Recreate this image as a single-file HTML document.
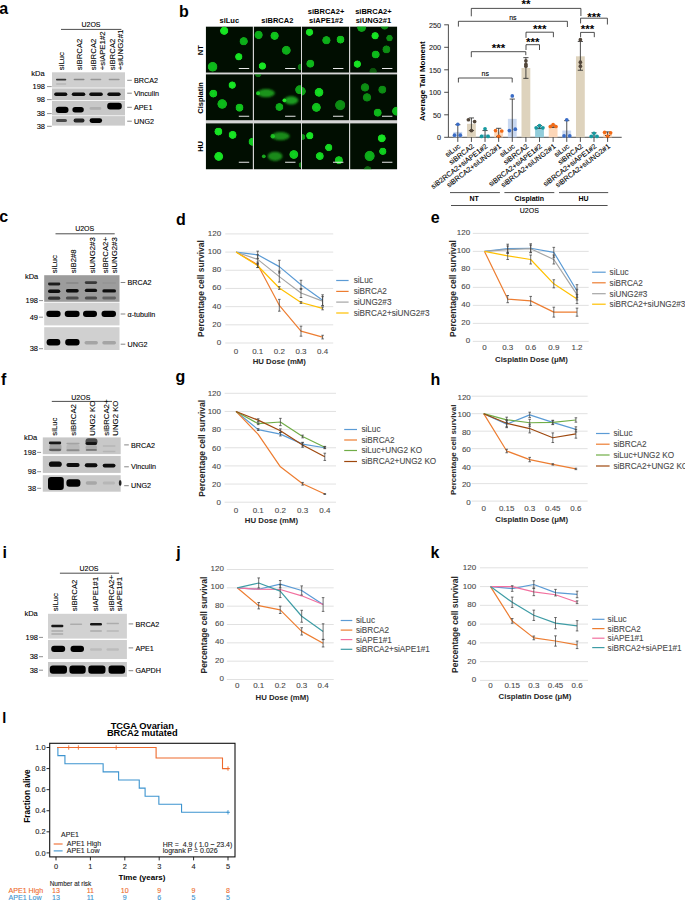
<!DOCTYPE html>
<html><head><meta charset="utf-8"><title>Figure</title>
<style>
html,body{margin:0;padding:0;background:#fff;overflow:hidden;}
svg{display:block;font-family:"Liberation Sans", sans-serif;}
</style></head><body>
<svg width="685" height="900" viewBox="0 0 685 900">
<defs>
<filter id="bl" x="-50%" y="-100%" width="200%" height="300%"><feGaussianBlur stdDeviation="0.55"/></filter>
<filter id="cf" x="-50%" y="-50%" width="200%" height="200%"><feGaussianBlur stdDeviation="0.45"/></filter>
<filter id="cb" x="-50%" y="-100%" width="200%" height="300%"><feGaussianBlur stdDeviation="1.0"/></filter>
<radialGradient id="cg"><stop offset="0" stop-color="#14ea22"/><stop offset="0.72" stop-color="#12e020"/><stop offset="0.86" stop-color="#18d424"/><stop offset="0.95" stop-color="#10a818"/><stop offset="1" stop-color="#0a600e" stop-opacity="0.6"/></radialGradient>
</defs>
<text x="-0.80" y="14.10" font-size="16" text-anchor="start" font-weight="bold" fill="#000">a</text>
<text x="91.00" y="27.30" font-size="7" text-anchor="middle" fill="#000" stroke="#000" stroke-width="0.1">U2OS</text>
<line x1="61.00" y1="29.40" x2="121.40" y2="29.40" stroke="#000" stroke-width="0.7"/>
<text x="63.80" y="70.20" font-size="7.8" text-anchor="start" fill="#000" stroke="#000" stroke-width="0.1" transform="rotate(-90 63.80 70.20)">siLuc</text>
<text x="82.00" y="70.20" font-size="7.8" text-anchor="start" fill="#000" stroke="#000" stroke-width="0.1" transform="rotate(-90 82.00 70.20)">siBRCA2</text>
<text x="95.70" y="70.20" font-size="7.8" text-anchor="start" fill="#000" stroke="#000" stroke-width="0.1" transform="rotate(-90 95.70 70.20)">siBRCA2</text>
<text x="105.20" y="70.20" font-size="7.8" text-anchor="start" fill="#000" stroke="#000" stroke-width="0.1" transform="rotate(-90 105.20 70.20)">+siAPE1#2</text>
<text x="114.70" y="70.20" font-size="7.8" text-anchor="start" fill="#000" stroke="#000" stroke-width="0.1" transform="rotate(-90 114.70 70.20)">siBRCA2</text>
<text x="123.20" y="70.20" font-size="7.8" text-anchor="start" fill="#000" stroke="#000" stroke-width="0.1" transform="rotate(-90 123.20 70.20)">+siUNG2#1</text>
<text x="31.30" y="76.00" font-size="7.5" text-anchor="start" fill="#000" stroke="#000" stroke-width="0.1">kDa</text>
<rect x="52.00" y="72.30" width="73.00" height="15.30" fill="#cfcfcf"/>
<rect x="52.00" y="88.40" width="73.00" height="11.60" fill="#c4c4c4"/>
<rect x="52.00" y="100.80" width="73.00" height="14.60" fill="#c8c8c8"/>
<rect x="52.00" y="116.10" width="73.00" height="9.50" fill="#cbcbcb"/>
<rect x="56.00" y="78.70" width="10.30" height="1.80" rx="0.90" fill="#222" fill-opacity="0.9" filter="url(#bl)"/>
<rect x="56.00" y="83.20" width="10.30" height="1.60" rx="0.80" fill="#888" fill-opacity="0.35" filter="url(#bl)"/>
<rect x="73.60" y="78.85" width="10.90" height="1.50" rx="0.75" fill="#555" fill-opacity="0.6" filter="url(#bl)"/>
<rect x="90.40" y="78.85" width="10.90" height="1.50" rx="0.75" fill="#666" fill-opacity="0.55" filter="url(#bl)"/>
<rect x="108.60" y="78.85" width="11.00" height="1.50" rx="0.75" fill="#666" fill-opacity="0.55" filter="url(#bl)"/>
<rect x="54.20" y="92.50" width="13.10" height="3.40" rx="1.70" fill="#0a0a0a" fill-opacity="1" filter="url(#bl)"/>
<rect x="71.80" y="92.50" width="13.50" height="3.40" rx="1.70" fill="#0a0a0a" fill-opacity="1" filter="url(#bl)"/>
<rect x="89.30" y="92.50" width="13.50" height="3.40" rx="1.70" fill="#0a0a0a" fill-opacity="1" filter="url(#bl)"/>
<rect x="107.40" y="92.50" width="13.20" height="3.40" rx="1.70" fill="#0a0a0a" fill-opacity="1" filter="url(#bl)"/>
<rect x="55.80" y="106.70" width="12.70" height="6.40" rx="3.00" fill="#050505" fill-opacity="1" filter="url(#bl)"/>
<rect x="72.40" y="107.10" width="11.40" height="5.40" rx="2.70" fill="#050505" fill-opacity="1" filter="url(#bl)"/>
<rect x="89.60" y="107.10" width="11.70" height="2.60" rx="1.30" fill="#999" fill-opacity="0.55" filter="url(#bl)"/>
<rect x="107.20" y="102.80" width="14.60" height="6.60" rx="3.00" fill="#030303" fill-opacity="1" filter="url(#bl)"/>
<rect x="56.00" y="118.90" width="11.00" height="3.20" rx="1.60" fill="#333" fill-opacity="0.85" filter="url(#bl)"/>
<rect x="73.60" y="118.60" width="10.90" height="3.80" rx="1.90" fill="#1a1a1a" fill-opacity="0.95" filter="url(#bl)"/>
<rect x="89.60" y="118.30" width="12.50" height="4.60" rx="2.30" fill="#050505" fill-opacity="1" filter="url(#bl)"/>
<text x="45.00" y="89.20" font-size="7.5" text-anchor="end" fill="#000" stroke="#000" stroke-width="0.1">198</text>
<line x1="47.00" y1="86.60" x2="51.70" y2="86.60" stroke="#444" stroke-width="0.6"/>
<text x="45.00" y="102.20" font-size="7.5" text-anchor="end" fill="#000" stroke="#000" stroke-width="0.1">98</text>
<line x1="47.00" y1="99.60" x2="51.70" y2="99.60" stroke="#444" stroke-width="0.6"/>
<text x="45.00" y="116.20" font-size="7.5" text-anchor="end" fill="#000" stroke="#000" stroke-width="0.1">38</text>
<line x1="47.00" y1="113.60" x2="51.70" y2="113.60" stroke="#444" stroke-width="0.6"/>
<text x="45.00" y="128.90" font-size="7.5" text-anchor="end" fill="#000" stroke="#000" stroke-width="0.1">38</text>
<line x1="47.00" y1="126.30" x2="51.70" y2="126.30" stroke="#444" stroke-width="0.6"/>
<line x1="127.20" y1="80.30" x2="131.80" y2="80.30" stroke="#333" stroke-width="0.6"/>
<text x="134.00" y="82.90" font-size="7.2" text-anchor="start" fill="#000" stroke="#000" stroke-width="0.1">BRCA2</text>
<line x1="127.20" y1="93.20" x2="131.80" y2="93.20" stroke="#333" stroke-width="0.6"/>
<text x="134.00" y="95.80" font-size="7.2" text-anchor="start" fill="#000" stroke="#000" stroke-width="0.1">Vinculin</text>
<line x1="127.20" y1="107.30" x2="131.80" y2="107.30" stroke="#333" stroke-width="0.6"/>
<text x="134.00" y="109.90" font-size="7.2" text-anchor="start" fill="#000" stroke="#000" stroke-width="0.1">APE1</text>
<line x1="127.20" y1="121.20" x2="131.80" y2="121.20" stroke="#333" stroke-width="0.6"/>
<text x="134.00" y="123.80" font-size="7.2" text-anchor="start" fill="#000" stroke="#000" stroke-width="0.1">UNG2</text>
<text x="179.00" y="17.00" font-size="16" text-anchor="start" font-weight="bold" fill="#000">b</text>
<text x="229.30" y="23.00" font-size="7.5" text-anchor="middle" font-weight="bold" fill="#000">siLuc</text>
<text x="277.30" y="23.00" font-size="7.5" text-anchor="middle" font-weight="bold" fill="#000">siBRCA2</text>
<text x="326.10" y="13.80" font-size="7.5" text-anchor="middle" font-weight="bold" fill="#000">siBRCA2+</text>
<text x="326.10" y="23.00" font-size="7.5" text-anchor="middle" font-weight="bold" fill="#000">siAPE1#2</text>
<text x="373.40" y="13.80" font-size="7.5" text-anchor="middle" font-weight="bold" fill="#000">siBRCA2+</text>
<text x="373.40" y="23.00" font-size="7.5" text-anchor="middle" font-weight="bold" fill="#000">siUNG2#1</text>
<text x="203.10" y="50.20" font-size="7.5" text-anchor="middle" font-weight="bold" fill="#000" transform="rotate(-90 203.10 50.20)">NT</text>
<text x="203.10" y="97.90" font-size="7.5" text-anchor="middle" font-weight="bold" fill="#000" transform="rotate(-90 203.10 97.90)">Cisplatin</text>
<text x="203.10" y="146.40" font-size="7.5" text-anchor="middle" font-weight="bold" fill="#000" transform="rotate(-90 203.10 146.40)">HU</text>
<rect x="205.80" y="26.50" width="191.40" height="142.90" fill="#d6d6d6"/>
<clipPath id="c00"><rect x="205.80" y="26.50" width="47.1" height="46.2"/></clipPath>
<g clip-path="url(#c00)">
<rect x="205.80" y="26.50" width="47.10" height="46.20" fill="#010e01"/>
<circle cx="224.2" cy="30.7" r="4.3" fill="url(#cg)" fill-opacity="1.0" filter="url(#cf)"/>
<circle cx="243.7" cy="41.2" r="4.3" fill="url(#cg)" fill-opacity="0.75" filter="url(#cf)"/>
<circle cx="238.8" cy="56.8" r="3.8" fill="url(#cg)" fill-opacity="1.0" filter="url(#cf)"/>
<circle cx="212.6" cy="66.8" r="5" fill="url(#cg)" fill-opacity="0.8" filter="url(#cf)"/>
<line x1="238.80" y1="68.50" x2="249.20" y2="68.50" stroke="#e8e8e8" stroke-width="1.1"/>
</g>
<clipPath id="c01"><rect x="205.80" y="74.20" width="47.1" height="46.2"/></clipPath>
<g clip-path="url(#c01)">
<rect x="205.80" y="74.20" width="47.10" height="46.20" fill="#010e01"/>
<circle cx="232.2" cy="85.1" r="3.8" fill="url(#cg)" fill-opacity="1.0" filter="url(#cf)"/>
<circle cx="213.3" cy="93.6" r="4.1" fill="url(#cg)" fill-opacity="0.9" filter="url(#cf)"/>
<circle cx="222.2" cy="104" r="5" fill="url(#cg)" fill-opacity="0.8" filter="url(#cf)"/>
<circle cx="239.5" cy="107.7" r="4.1" fill="url(#cg)" fill-opacity="0.85" filter="url(#cf)"/>
<line x1="238.80" y1="116.20" x2="249.20" y2="116.20" stroke="#e8e8e8" stroke-width="1.1"/>
</g>
<clipPath id="c02"><rect x="205.80" y="123.20" width="47.1" height="46.2"/></clipPath>
<g clip-path="url(#c02)">
<rect x="205.80" y="123.20" width="47.10" height="46.20" fill="#010e01"/>
<circle cx="218.4" cy="131.6" r="4.1" fill="url(#cg)" fill-opacity="1.0" filter="url(#cf)"/>
<circle cx="232.6" cy="134.9" r="4.1" fill="url(#cg)" fill-opacity="1.0" filter="url(#cf)"/>
<circle cx="252.5" cy="141.8" r="4.1" fill="url(#cg)" fill-opacity="0.9" filter="url(#cf)"/>
<circle cx="218.7" cy="156.4" r="4.6" fill="url(#cg)" fill-opacity="1.0" filter="url(#cf)"/>
<line x1="238.80" y1="162.30" x2="249.20" y2="162.30" stroke="#e8e8e8" stroke-width="1.1"/>
</g>
<clipPath id="c10"><rect x="253.90" y="26.50" width="47.1" height="46.2"/></clipPath>
<g clip-path="url(#c10)">
<rect x="253.90" y="26.50" width="47.10" height="46.20" fill="#010e01"/>
<circle cx="258.6" cy="34.9" r="4.3" fill="url(#cg)" fill-opacity="0.75" filter="url(#cf)"/>
<circle cx="274.6" cy="35.8" r="4.3" fill="url(#cg)" fill-opacity="0.85" filter="url(#cf)"/>
<circle cx="286.3" cy="50.3" r="4.6" fill="url(#cg)" fill-opacity="0.75" filter="url(#cf)"/>
<circle cx="262.4" cy="66" r="3.8" fill="url(#cg)" fill-opacity="1.0" filter="url(#cf)"/>
<circle cx="301" cy="67" r="3.5" fill="url(#cg)" fill-opacity="0.5" filter="url(#cf)"/>
<line x1="285.10" y1="68.50" x2="295.50" y2="68.50" stroke="#e8e8e8" stroke-width="1.1"/>
</g>
<clipPath id="c11"><rect x="253.90" y="74.20" width="47.1" height="46.2"/></clipPath>
<g clip-path="url(#c11)">
<rect x="253.90" y="74.20" width="47.10" height="46.20" fill="#010e01"/>
<circle cx="258.2" cy="73.8" r="3.5" fill="url(#cg)" fill-opacity="0.5" filter="url(#cf)"/>
<circle cx="299.6" cy="89.7" r="4.6" fill="url(#cg)" fill-opacity="0.7" filter="url(#cf)"/>
<circle cx="279.4" cy="107" r="4.1" fill="url(#cg)" fill-opacity="0.75" filter="url(#cf)"/>
<ellipse cx="266.10" cy="93.20" rx="8.70" ry="4.10" fill="#20aa22" fill-opacity="0.85" filter="url(#cb)"/>
<circle cx="258.0" cy="93.2" r="2.0" fill="#22e82a" fill-opacity="0.8" filter="url(#bl)"/>
<ellipse cx="291.20" cy="100.30" rx="7.10" ry="4.10" fill="#20aa22" fill-opacity="0.90" filter="url(#cb)"/>
<circle cx="284.4" cy="100.3" r="1.9" fill="#22e82a" fill-opacity="1.0" filter="url(#bl)"/>
<line x1="285.10" y1="116.20" x2="295.50" y2="116.20" stroke="#e8e8e8" stroke-width="1.1"/>
</g>
<clipPath id="c12"><rect x="253.90" y="123.20" width="47.1" height="46.2"/></clipPath>
<g clip-path="url(#c12)">
<rect x="253.90" y="123.20" width="47.10" height="46.20" fill="#010e01"/>
<circle cx="293.8" cy="154.5" r="4.6" fill="url(#cg)" fill-opacity="0.9" filter="url(#cf)"/>
<circle cx="301.5" cy="165" r="3" fill="url(#cg)" fill-opacity="0.5" filter="url(#cf)"/>
<ellipse cx="280.60" cy="136.20" rx="9.00" ry="4.10" fill="#20aa22" fill-opacity="0.80" filter="url(#cb)"/>
<circle cx="272.7" cy="136.2" r="2.2" fill="#22e82a" fill-opacity="0.7" filter="url(#bl)"/>
<ellipse cx="275.05" cy="156.30" rx="7.35" ry="4.60" fill="#20aa22" fill-opacity="0.80" filter="url(#cb)"/>
<circle cx="263.8" cy="156.3" r="1.9" fill="#22e82a" fill-opacity="0.7" filter="url(#bl)"/>
<line x1="285.10" y1="162.30" x2="295.50" y2="162.30" stroke="#e8e8e8" stroke-width="1.1"/>
</g>
<clipPath id="c20"><rect x="302.00" y="26.50" width="47.1" height="46.2"/></clipPath>
<g clip-path="url(#c20)">
<rect x="302.00" y="26.50" width="47.10" height="46.20" fill="#010e01"/>
<circle cx="309.5" cy="32.3" r="3.8" fill="url(#cg)" fill-opacity="1.0" filter="url(#cf)"/>
<circle cx="326.4" cy="40.2" r="4.3" fill="url(#cg)" fill-opacity="0.75" filter="url(#cf)"/>
<circle cx="340.5" cy="39.6" r="4.1" fill="url(#cg)" fill-opacity="0.85" filter="url(#cf)"/>
<circle cx="310.3" cy="63.7" r="4.1" fill="url(#cg)" fill-opacity="0.8" filter="url(#cf)"/>
<line x1="333.00" y1="68.50" x2="343.40" y2="68.50" stroke="#e8e8e8" stroke-width="1.1"/>
</g>
<clipPath id="c21"><rect x="302.00" y="74.20" width="47.1" height="46.2"/></clipPath>
<g clip-path="url(#c21)">
<rect x="302.00" y="74.20" width="47.10" height="46.20" fill="#010e01"/>
<circle cx="319" cy="92.3" r="4.6" fill="url(#cg)" fill-opacity="0.95" filter="url(#cf)"/>
<circle cx="316.4" cy="107.4" r="4.6" fill="url(#cg)" fill-opacity="0.85" filter="url(#cf)"/>
<circle cx="340.2" cy="105.1" r="5.3" fill="url(#cg)" fill-opacity="0.6" filter="url(#cf)"/>
<circle cx="301.5" cy="91.3" r="4.5" fill="url(#cg)" fill-opacity="0.7" filter="url(#cf)"/>
<line x1="333.00" y1="116.20" x2="343.40" y2="116.20" stroke="#e8e8e8" stroke-width="1.1"/>
</g>
<clipPath id="c22"><rect x="302.00" y="123.20" width="47.1" height="46.2"/></clipPath>
<g clip-path="url(#c22)">
<rect x="302.00" y="123.20" width="47.10" height="46.20" fill="#010e01"/>
<circle cx="309.8" cy="135.7" r="3.8" fill="url(#cg)" fill-opacity="1.0" filter="url(#cf)"/>
<circle cx="328.7" cy="147.5" r="3.8" fill="url(#cg)" fill-opacity="0.95" filter="url(#cf)"/>
<circle cx="319.8" cy="156.1" r="4.1" fill="url(#cg)" fill-opacity="0.95" filter="url(#cf)"/>
<circle cx="338.9" cy="160.2" r="4.1" fill="url(#cg)" fill-opacity="0.9" filter="url(#cf)"/>
<circle cx="302.5" cy="137" r="3" fill="url(#cg)" fill-opacity="0.6" filter="url(#cf)"/>
<line x1="333.00" y1="162.30" x2="343.40" y2="162.30" stroke="#e8e8e8" stroke-width="1.1"/>
</g>
<clipPath id="c30"><rect x="350.10" y="26.50" width="47.1" height="46.2"/></clipPath>
<g clip-path="url(#c30)">
<rect x="350.10" y="26.50" width="47.10" height="46.20" fill="#010e01"/>
<circle cx="361.6" cy="27.5" r="4.6" fill="url(#cg)" fill-opacity="0.7" filter="url(#cf)"/>
<circle cx="384.6" cy="25.5" r="4.3" fill="url(#cg)" fill-opacity="0.6" filter="url(#cf)"/>
<circle cx="375.1" cy="35.8" r="3.8" fill="url(#cg)" fill-opacity="1.0" filter="url(#cf)"/>
<circle cx="389.5" cy="38.1" r="3.4" fill="url(#cg)" fill-opacity="0.6" filter="url(#cf)"/>
<circle cx="386.4" cy="49.4" r="4.1" fill="url(#cg)" fill-opacity="0.6" filter="url(#cf)"/>
<circle cx="375.7" cy="54.5" r="4.1" fill="url(#cg)" fill-opacity="0.8" filter="url(#cf)"/>
<circle cx="357.3" cy="64.1" r="3.8" fill="url(#cg)" fill-opacity="1.0" filter="url(#cf)"/>
<circle cx="373.1" cy="71.5" r="3.8" fill="url(#cg)" fill-opacity="0.35" filter="url(#cf)"/>
<line x1="382.00" y1="68.50" x2="392.40" y2="68.50" stroke="#e8e8e8" stroke-width="1.1"/>
</g>
<clipPath id="c31"><rect x="350.10" y="74.20" width="47.1" height="46.2"/></clipPath>
<g clip-path="url(#c31)">
<rect x="350.10" y="74.20" width="47.10" height="46.20" fill="#010e01"/>
<circle cx="365" cy="87.4" r="4.3" fill="url(#cg)" fill-opacity="0.6" filter="url(#cf)"/>
<circle cx="382.3" cy="89.7" r="4.1" fill="url(#cg)" fill-opacity="0.6" filter="url(#cf)"/>
<circle cx="367" cy="97.4" r="4.3" fill="url(#cg)" fill-opacity="0.6" filter="url(#cf)"/>
<circle cx="377.7" cy="112.7" r="4.1" fill="url(#cg)" fill-opacity="0.8" filter="url(#cf)"/>
<circle cx="396.5" cy="111.2" r="4.6" fill="url(#cg)" fill-opacity="0.8" filter="url(#cf)"/>
<line x1="382.00" y1="116.20" x2="392.40" y2="116.20" stroke="#e8e8e8" stroke-width="1.1"/>
</g>
<clipPath id="c32"><rect x="350.10" y="123.20" width="47.1" height="46.2"/></clipPath>
<g clip-path="url(#c32)">
<rect x="350.10" y="123.20" width="47.10" height="46.20" fill="#010e01"/>
<circle cx="381.8" cy="138.3" r="4.1" fill="url(#cg)" fill-opacity="1.0" filter="url(#cf)"/>
<circle cx="382.8" cy="151.3" r="3.8" fill="url(#cg)" fill-opacity="0.9" filter="url(#cf)"/>
<circle cx="369.6" cy="155.9" r="5.3" fill="url(#cg)" fill-opacity="0.75" filter="url(#cf)"/>
<circle cx="367.7" cy="170" r="4" fill="url(#cg)" fill-opacity="0.4" filter="url(#cf)"/>
<line x1="382.00" y1="162.30" x2="392.40" y2="162.30" stroke="#e8e8e8" stroke-width="1.1"/>
</g>
<line x1="448.40" y1="24.50" x2="448.40" y2="137.30" stroke="#222" stroke-width="0.8"/>
<line x1="448.40" y1="137.30" x2="621.70" y2="137.30" stroke="#222" stroke-width="0.8"/>
<line x1="444.20" y1="137.30" x2="448.40" y2="137.30" stroke="#222" stroke-width="0.8"/>
<text x="441.00" y="140.30" font-size="7.2" text-anchor="end" fill="#222" stroke="#222" stroke-width="0.1">0</text>
<line x1="444.20" y1="114.80" x2="448.40" y2="114.80" stroke="#222" stroke-width="0.8"/>
<text x="441.00" y="117.80" font-size="7.2" text-anchor="end" fill="#222" stroke="#222" stroke-width="0.1">50</text>
<line x1="444.20" y1="92.30" x2="448.40" y2="92.30" stroke="#222" stroke-width="0.8"/>
<text x="441.00" y="95.30" font-size="7.2" text-anchor="end" fill="#222" stroke="#222" stroke-width="0.1">100</text>
<line x1="444.20" y1="69.80" x2="448.40" y2="69.80" stroke="#222" stroke-width="0.8"/>
<text x="441.00" y="72.80" font-size="7.2" text-anchor="end" fill="#222" stroke="#222" stroke-width="0.1">150</text>
<line x1="444.20" y1="47.30" x2="448.40" y2="47.30" stroke="#222" stroke-width="0.8"/>
<text x="441.00" y="50.30" font-size="7.2" text-anchor="end" fill="#222" stroke="#222" stroke-width="0.1">200</text>
<line x1="444.20" y1="24.80" x2="448.40" y2="24.80" stroke="#222" stroke-width="0.8"/>
<text x="441.00" y="27.80" font-size="7.2" text-anchor="end" fill="#222" stroke="#222" stroke-width="0.1">250</text>
<text x="424.60" y="81.20" font-size="8.0" text-anchor="middle" font-weight="bold" fill="#000" transform="rotate(-90 424.60 81.20)">Average Tail Moment</text>
<rect x="453.40" y="131.90" width="8.80" height="5.40" fill="#c9d8f0"/>
<rect x="467.02" y="123.80" width="8.80" height="13.50" fill="#ded3bd"/>
<rect x="480.64" y="134.60" width="8.80" height="2.70" fill="#92cddb"/>
<rect x="494.26" y="131.45" width="8.80" height="5.85" fill="#fdd7b8"/>
<rect x="507.88" y="118.85" width="8.80" height="18.45" fill="#c9d8f0"/>
<rect x="521.50" y="68.00" width="8.80" height="69.30" fill="#ded3bd"/>
<rect x="535.12" y="126.95" width="8.80" height="10.35" fill="#92cddb"/>
<rect x="548.74" y="126.05" width="8.80" height="11.25" fill="#fdd7b8"/>
<rect x="562.36" y="130.55" width="8.80" height="6.75" fill="#c9d8f0"/>
<rect x="575.98" y="56.30" width="8.80" height="81.00" fill="#ded3bd"/>
<rect x="589.60" y="135.05" width="8.80" height="2.25" fill="#92cddb"/>
<rect x="603.22" y="133.25" width="8.80" height="4.05" fill="#fdd7b8"/>
<line x1="457.80" y1="124.70" x2="457.80" y2="137.30" stroke="#222" stroke-width="0.8"/>
<line x1="455.20" y1="124.70" x2="460.40" y2="124.70" stroke="#222" stroke-width="0.8"/>
<circle cx="454.50" cy="135.19" r="1.85" fill="#3a6cc6"/>
<circle cx="460.30" cy="135.19" r="1.85" fill="#3a6cc6"/>
<circle cx="457.80" cy="124.25" r="1.85" fill="#3a6cc6"/>
<line x1="457.80" y1="137.30" x2="457.80" y2="141.90" stroke="#222" stroke-width="0.8"/>
<line x1="471.42" y1="117.95" x2="471.42" y2="130.55" stroke="#222" stroke-width="0.8"/>
<line x1="468.82" y1="117.95" x2="474.02" y2="117.95" stroke="#222" stroke-width="0.8"/>
<line x1="468.82" y1="130.55" x2="474.02" y2="130.55" stroke="#222" stroke-width="0.8"/>
<circle cx="468.42" cy="119.75" r="1.85" fill="#52463a"/>
<circle cx="474.62" cy="121.55" r="1.85" fill="#52463a"/>
<circle cx="471.42" cy="130.55" r="1.85" fill="#52463a"/>
<line x1="471.42" y1="137.30" x2="471.42" y2="141.90" stroke="#222" stroke-width="0.8"/>
<line x1="485.04" y1="130.55" x2="485.04" y2="137.30" stroke="#222" stroke-width="0.8"/>
<line x1="482.44" y1="130.55" x2="487.64" y2="130.55" stroke="#222" stroke-width="0.8"/>
<circle cx="481.54" cy="136.40" r="1.85" fill="#16999f"/>
<circle cx="488.04" cy="136.40" r="1.85" fill="#16999f"/>
<circle cx="485.04" cy="128.75" r="1.85" fill="#16999f"/>
<line x1="485.04" y1="137.30" x2="485.04" y2="141.90" stroke="#222" stroke-width="0.8"/>
<line x1="498.66" y1="128.30" x2="498.66" y2="136.40" stroke="#222" stroke-width="0.8"/>
<line x1="496.06" y1="128.30" x2="501.26" y2="128.30" stroke="#222" stroke-width="0.8"/>
<line x1="496.06" y1="136.40" x2="501.26" y2="136.40" stroke="#222" stroke-width="0.8"/>
<circle cx="495.56" cy="130.55" r="1.85" fill="#f26a16"/>
<circle cx="501.76" cy="131.00" r="1.85" fill="#f26a16"/>
<circle cx="498.66" cy="136.40" r="1.85" fill="#f26a16"/>
<line x1="498.66" y1="137.30" x2="498.66" y2="141.90" stroke="#222" stroke-width="0.8"/>
<line x1="512.28" y1="99.05" x2="512.28" y2="137.30" stroke="#222" stroke-width="0.8"/>
<line x1="509.68" y1="99.05" x2="514.88" y2="99.05" stroke="#222" stroke-width="0.8"/>
<circle cx="512.28" cy="95.90" r="1.85" fill="#3a6cc6"/>
<circle cx="509.38" cy="130.55" r="1.85" fill="#3a6cc6"/>
<circle cx="515.28" cy="129.20" r="1.85" fill="#3a6cc6"/>
<line x1="512.28" y1="137.30" x2="512.28" y2="141.90" stroke="#222" stroke-width="0.8"/>
<line x1="525.90" y1="57.65" x2="525.90" y2="78.35" stroke="#222" stroke-width="0.8"/>
<line x1="523.30" y1="57.65" x2="528.50" y2="57.65" stroke="#222" stroke-width="0.8"/>
<line x1="523.30" y1="78.35" x2="528.50" y2="78.35" stroke="#222" stroke-width="0.8"/>
<circle cx="525.90" cy="60.80" r="1.85" fill="#52463a"/>
<circle cx="525.90" cy="64.40" r="1.85" fill="#52463a"/>
<circle cx="525.90" cy="66.20" r="1.85" fill="#52463a"/>
<line x1="525.90" y1="137.30" x2="525.90" y2="141.90" stroke="#222" stroke-width="0.8"/>
<line x1="539.52" y1="125.60" x2="539.52" y2="128.30" stroke="#222" stroke-width="0.8"/>
<line x1="536.92" y1="125.60" x2="542.12" y2="125.60" stroke="#222" stroke-width="0.8"/>
<line x1="536.92" y1="128.30" x2="542.12" y2="128.30" stroke="#222" stroke-width="0.8"/>
<circle cx="536.12" cy="127.85" r="1.85" fill="#16999f"/>
<circle cx="542.92" cy="127.85" r="1.85" fill="#16999f"/>
<circle cx="539.52" cy="125.60" r="1.85" fill="#16999f"/>
<line x1="539.52" y1="137.30" x2="539.52" y2="141.90" stroke="#222" stroke-width="0.8"/>
<line x1="553.14" y1="125.15" x2="553.14" y2="127.40" stroke="#222" stroke-width="0.8"/>
<line x1="550.54" y1="125.15" x2="555.74" y2="125.15" stroke="#222" stroke-width="0.8"/>
<line x1="550.54" y1="127.40" x2="555.74" y2="127.40" stroke="#222" stroke-width="0.8"/>
<circle cx="550.34" cy="126.50" r="1.85" fill="#f26a16"/>
<circle cx="555.94" cy="126.50" r="1.85" fill="#f26a16"/>
<circle cx="553.14" cy="124.70" r="1.85" fill="#f26a16"/>
<line x1="553.14" y1="137.30" x2="553.14" y2="141.90" stroke="#222" stroke-width="0.8"/>
<line x1="566.76" y1="120.65" x2="566.76" y2="137.30" stroke="#222" stroke-width="0.8"/>
<line x1="564.16" y1="120.65" x2="569.36" y2="120.65" stroke="#222" stroke-width="0.8"/>
<circle cx="564.06" cy="135.95" r="1.85" fill="#3a6cc6"/>
<circle cx="569.76" cy="135.95" r="1.85" fill="#3a6cc6"/>
<circle cx="566.76" cy="119.75" r="1.85" fill="#3a6cc6"/>
<line x1="566.76" y1="137.30" x2="566.76" y2="141.90" stroke="#222" stroke-width="0.8"/>
<line x1="580.38" y1="41.45" x2="580.38" y2="70.25" stroke="#222" stroke-width="0.8"/>
<line x1="577.78" y1="41.45" x2="582.98" y2="41.45" stroke="#222" stroke-width="0.8"/>
<line x1="577.78" y1="70.25" x2="582.98" y2="70.25" stroke="#222" stroke-width="0.8"/>
<circle cx="580.38" cy="39.65" r="1.85" fill="#52463a"/>
<circle cx="580.38" cy="62.15" r="1.85" fill="#52463a"/>
<circle cx="580.38" cy="66.20" r="1.85" fill="#52463a"/>
<line x1="580.38" y1="137.30" x2="580.38" y2="141.90" stroke="#222" stroke-width="0.8"/>
<line x1="594.00" y1="132.80" x2="594.00" y2="137.30" stroke="#222" stroke-width="0.8"/>
<line x1="591.40" y1="132.80" x2="596.60" y2="132.80" stroke="#222" stroke-width="0.8"/>
<circle cx="591.30" cy="136.40" r="1.85" fill="#16999f"/>
<circle cx="597.00" cy="136.40" r="1.85" fill="#16999f"/>
<circle cx="594.00" cy="133.25" r="1.85" fill="#16999f"/>
<line x1="594.00" y1="137.30" x2="594.00" y2="141.90" stroke="#222" stroke-width="0.8"/>
<line x1="607.62" y1="131.90" x2="607.62" y2="135.50" stroke="#222" stroke-width="0.8"/>
<line x1="605.02" y1="131.90" x2="610.22" y2="131.90" stroke="#222" stroke-width="0.8"/>
<line x1="605.02" y1="135.50" x2="610.22" y2="135.50" stroke="#222" stroke-width="0.8"/>
<circle cx="604.62" cy="132.35" r="1.85" fill="#f26a16"/>
<circle cx="610.62" cy="132.80" r="1.85" fill="#f26a16"/>
<circle cx="607.62" cy="136.40" r="1.85" fill="#f26a16"/>
<line x1="607.62" y1="137.30" x2="607.62" y2="141.90" stroke="#222" stroke-width="0.8"/>
<text x="460.80" y="147.30" font-size="7.2" text-anchor="end" fill="#000" stroke="#000" stroke-width="0.1" transform="rotate(-37.5 460.80 147.30)">siLuc</text>
<text x="474.42" y="147.30" font-size="7.2" text-anchor="end" fill="#000" stroke="#000" stroke-width="0.1" transform="rotate(-37.5 474.42 147.30)">siBRCA2</text>
<text x="488.04" y="147.30" font-size="7.2" text-anchor="end" fill="#000" stroke="#000" stroke-width="0.1" transform="rotate(-37.5 488.04 147.30)">siB2RCA2+siAPE1#2</text>
<text x="501.66" y="147.30" font-size="7.2" text-anchor="end" fill="#000" stroke="#000" stroke-width="0.1" transform="rotate(-37.5 501.66 147.30)">siBRCA2+siUNG2#1</text>
<text x="515.28" y="147.30" font-size="7.2" text-anchor="end" fill="#000" stroke="#000" stroke-width="0.1" transform="rotate(-37.5 515.28 147.30)">siLuc</text>
<text x="528.90" y="147.30" font-size="7.2" text-anchor="end" fill="#000" stroke="#000" stroke-width="0.1" transform="rotate(-37.5 528.90 147.30)">siBRCA2</text>
<text x="542.52" y="147.30" font-size="7.2" text-anchor="end" fill="#000" stroke="#000" stroke-width="0.1" transform="rotate(-37.5 542.52 147.30)">siBRCA2+siAPE1#2</text>
<text x="556.14" y="147.30" font-size="7.2" text-anchor="end" fill="#000" stroke="#000" stroke-width="0.1" transform="rotate(-37.5 556.14 147.30)">siBRCA2+siUNG2#1</text>
<text x="569.76" y="147.30" font-size="7.2" text-anchor="end" fill="#000" stroke="#000" stroke-width="0.1" transform="rotate(-37.5 569.76 147.30)">siLuc</text>
<text x="583.38" y="147.30" font-size="7.2" text-anchor="end" fill="#000" stroke="#000" stroke-width="0.1" transform="rotate(-37.5 583.38 147.30)">siBRCA2</text>
<text x="597.00" y="147.30" font-size="7.2" text-anchor="end" fill="#000" stroke="#000" stroke-width="0.1" transform="rotate(-37.5 597.00 147.30)">siBRCA2+siAPE1#2</text>
<text x="610.62" y="147.30" font-size="7.2" text-anchor="end" fill="#000" stroke="#000" stroke-width="0.1" transform="rotate(-37.5 610.62 147.30)">siBRCA2+siUNG2#1</text>
<line x1="450.00" y1="192.60" x2="499.90" y2="192.60" stroke="#222" stroke-width="0.8"/>
<line x1="504.40" y1="192.60" x2="554.30" y2="192.60" stroke="#222" stroke-width="0.8"/>
<line x1="559.00" y1="192.60" x2="608.20" y2="192.60" stroke="#222" stroke-width="0.8"/>
<text x="474.20" y="201.00" font-size="7" text-anchor="middle" font-weight="bold" fill="#000">NT</text>
<text x="529.30" y="201.00" font-size="7" text-anchor="middle" font-weight="bold" fill="#000">Cisplatin</text>
<text x="583.60" y="201.00" font-size="7" text-anchor="middle" font-weight="bold" fill="#000">HU</text>
<line x1="451.00" y1="205.50" x2="607.60" y2="205.50" stroke="#222" stroke-width="0.8"/>
<text x="529.30" y="213.10" font-size="7" text-anchor="middle" fill="#000" stroke="#000" stroke-width="0.1">U2OS</text>
<polyline points="471.30,16.30 471.30,8.40 580.90,8.40 580.90,16.00" fill="none" stroke="#222" stroke-width="0.8"/>
<text x="526.10" y="8.30" font-size="11.5" text-anchor="middle" font-weight="bold" fill="#000">**</text>
<polyline points="458.40,26.60 458.40,21.30 567.40,21.30 567.40,27.00" fill="none" stroke="#222" stroke-width="0.8"/>
<text x="512.90" y="19.60" font-size="7" text-anchor="middle" fill="#000" stroke="#000" stroke-width="0.1">ns</text>
<polyline points="471.30,57.20 471.30,51.70 525.80,51.70 525.80,55.20" fill="none" stroke="#222" stroke-width="0.8"/>
<text x="498.55" y="52.30" font-size="11.5" text-anchor="middle" font-weight="bold" fill="#000">***</text>
<polyline points="526.00,50.00 526.00,44.70 539.50,44.70 539.50,50.00" fill="none" stroke="#222" stroke-width="0.8"/>
<text x="532.75" y="46.20" font-size="11.5" text-anchor="middle" font-weight="bold" fill="#000">***</text>
<polyline points="526.00,37.80 526.00,32.20 553.40,32.20 553.40,37.20" fill="none" stroke="#222" stroke-width="0.8"/>
<text x="539.70" y="33.10" font-size="11.5" text-anchor="middle" font-weight="bold" fill="#000">***</text>
<polyline points="580.60,23.40 580.60,18.20 607.40,18.20 607.40,24.50" fill="none" stroke="#222" stroke-width="0.8"/>
<text x="594.00" y="20.60" font-size="11.5" text-anchor="middle" font-weight="bold" fill="#000">***</text>
<polyline points="580.60,37.20 580.60,32.40 594.30,32.40 594.30,37.20" fill="none" stroke="#222" stroke-width="0.8"/>
<text x="587.45" y="32.80" font-size="11.5" text-anchor="middle" font-weight="bold" fill="#000">***</text>
<polyline points="458.40,82.50 458.40,78.00 512.20,78.00 512.20,82.50" fill="none" stroke="#222" stroke-width="0.8"/>
<text x="485.30" y="76.20" font-size="7" text-anchor="middle" fill="#000" stroke="#000" stroke-width="0.1">ns</text>
<text x="-0.70" y="222.20" font-size="16" text-anchor="start" font-weight="bold" fill="#000">c</text>
<text x="84.70" y="230.90" font-size="7" text-anchor="middle" fill="#000" stroke="#000" stroke-width="0.1">U2OS</text>
<line x1="55.50" y1="233.80" x2="114.70" y2="233.80" stroke="#000" stroke-width="0.7"/>
<text x="56.70" y="273.20" font-size="7.8" text-anchor="start" fill="#000" stroke="#000" stroke-width="0.1" transform="rotate(-90 56.70 273.20)">siLuc</text>
<text x="75.80" y="273.20" font-size="7.8" text-anchor="start" fill="#000" stroke="#000" stroke-width="0.1" transform="rotate(-90 75.80 273.20)">siB2#8</text>
<text x="95.50" y="273.20" font-size="7.8" text-anchor="start" fill="#000" stroke="#000" stroke-width="0.1" transform="rotate(-90 95.50 273.20)">siUNG2#3</text>
<text x="108.40" y="273.20" font-size="7.8" text-anchor="start" fill="#000" stroke="#000" stroke-width="0.1" transform="rotate(-90 108.40 273.20)">siBRCA2+</text>
<text x="116.90" y="273.20" font-size="7.8" text-anchor="start" fill="#000" stroke="#000" stroke-width="0.1" transform="rotate(-90 116.90 273.20)">siUNG2#3</text>
<text x="24.90" y="279.00" font-size="7.5" text-anchor="start" fill="#000" stroke="#000" stroke-width="0.1">kDa</text>
<rect x="44.20" y="275.20" width="75.30" height="26.60" fill="#9c9c9c"/>
<rect x="44.20" y="302.70" width="75.30" height="22.70" fill="#d2d2d2"/>
<rect x="44.20" y="327.20" width="75.30" height="22.80" fill="#d0d0d0"/>
<rect x="48.00" y="282.60" width="12.30" height="2.80" rx="1.40" fill="#111" fill-opacity="0.9" filter="url(#bl)"/>
<rect x="48.00" y="289.40" width="12.30" height="3.60" rx="1.80" fill="#0a0a0a" fill-opacity="1" filter="url(#bl)"/>
<rect x="48.00" y="296.60" width="12.30" height="3.20" rx="1.60" fill="#222" fill-opacity="0.85" filter="url(#bl)"/>
<rect x="65.90" y="281.90" width="12.80" height="2.20" rx="1.10" fill="#777" fill-opacity="0.45" filter="url(#bl)"/>
<rect x="65.90" y="289.10" width="12.80" height="3.40" rx="1.70" fill="#0a0a0a" fill-opacity="1" filter="url(#bl)"/>
<rect x="65.90" y="296.40" width="12.80" height="3.00" rx="1.50" fill="#333" fill-opacity="0.75" filter="url(#bl)"/>
<rect x="84.80" y="281.30" width="12.30" height="2.60" rx="1.30" fill="#222" fill-opacity="0.8" filter="url(#bl)"/>
<rect x="84.80" y="288.70" width="12.30" height="3.40" rx="1.70" fill="#0a0a0a" fill-opacity="1" filter="url(#bl)"/>
<rect x="84.80" y="296.40" width="12.30" height="3.00" rx="1.50" fill="#333" fill-opacity="0.75" filter="url(#bl)"/>
<rect x="102.30" y="282.00" width="13.70" height="2.00" rx="1.00" fill="#888" fill-opacity="0.3" filter="url(#bl)"/>
<rect x="102.30" y="289.30" width="13.70" height="3.20" rx="1.60" fill="#111" fill-opacity="1" filter="url(#bl)"/>
<rect x="102.30" y="296.60" width="13.70" height="2.80" rx="1.40" fill="#444" fill-opacity="0.65" filter="url(#bl)"/>
<rect x="46.30" y="310.70" width="14.30" height="6.20" rx="3.00" fill="#050505" fill-opacity="1" filter="url(#bl)"/>
<rect x="64.70" y="310.70" width="14.90" height="6.20" rx="3.00" fill="#050505" fill-opacity="1" filter="url(#bl)"/>
<rect x="83.00" y="310.70" width="14.00" height="6.20" rx="3.00" fill="#050505" fill-opacity="1" filter="url(#bl)"/>
<rect x="101.50" y="310.70" width="14.50" height="6.20" rx="3.00" fill="#050505" fill-opacity="1" filter="url(#bl)"/>
<rect x="46.60" y="338.90" width="13.70" height="6.60" rx="3.00" fill="#050505" fill-opacity="1" filter="url(#bl)"/>
<rect x="65.20" y="338.90" width="14.40" height="6.60" rx="3.00" fill="#050505" fill-opacity="1" filter="url(#bl)"/>
<rect x="84.50" y="341.10" width="13.40" height="3.40" rx="1.70" fill="#999" fill-opacity="0.8" filter="url(#bl)"/>
<rect x="102.30" y="341.10" width="13.70" height="3.40" rx="1.70" fill="#999" fill-opacity="0.8" filter="url(#bl)"/>
<text x="38.00" y="303.20" font-size="7.5" text-anchor="end" fill="#000" stroke="#000" stroke-width="0.1">198</text>
<line x1="39.00" y1="300.60" x2="43.00" y2="300.60" stroke="#444" stroke-width="0.6"/>
<text x="38.00" y="319.80" font-size="7.5" text-anchor="end" fill="#000" stroke="#000" stroke-width="0.1">49</text>
<line x1="39.00" y1="317.20" x2="43.00" y2="317.20" stroke="#444" stroke-width="0.6"/>
<text x="38.00" y="351.30" font-size="7.5" text-anchor="end" fill="#000" stroke="#000" stroke-width="0.1">38</text>
<line x1="39.00" y1="348.70" x2="43.00" y2="348.70" stroke="#444" stroke-width="0.6"/>
<line x1="120.70" y1="282.50" x2="125.30" y2="282.50" stroke="#333" stroke-width="0.6"/>
<text x="127.50" y="285.10" font-size="7.2" text-anchor="start" fill="#000" stroke="#000" stroke-width="0.1">BRCA2</text>
<line x1="120.70" y1="314.00" x2="125.30" y2="314.00" stroke="#333" stroke-width="0.6"/>
<text x="127.50" y="316.60" font-size="7.2" text-anchor="start" fill="#000" stroke="#000" stroke-width="0.1">α-tubulin</text>
<line x1="120.70" y1="344.20" x2="125.30" y2="344.20" stroke="#333" stroke-width="0.6"/>
<text x="127.50" y="346.80" font-size="7.2" text-anchor="start" fill="#000" stroke="#000" stroke-width="0.1">UNG2</text>
<text x="176.00" y="224.60" font-size="16" text-anchor="start" font-weight="bold" fill="#000">d</text>
<line x1="225.30" y1="343.00" x2="333.20" y2="343.00" stroke="#d9d9d9" stroke-width="0.8"/>
<text x="221.20" y="345.00" font-size="8.0" text-anchor="end" fill="#4a4a4a" stroke="#4a4a4a" stroke-width="0.1">0</text>
<line x1="225.30" y1="324.82" x2="333.20" y2="324.82" stroke="#d9d9d9" stroke-width="0.8"/>
<text x="221.20" y="326.82" font-size="8.0" text-anchor="end" fill="#4a4a4a" stroke="#4a4a4a" stroke-width="0.1">20</text>
<line x1="225.30" y1="306.63" x2="333.20" y2="306.63" stroke="#d9d9d9" stroke-width="0.8"/>
<text x="221.20" y="308.63" font-size="8.0" text-anchor="end" fill="#4a4a4a" stroke="#4a4a4a" stroke-width="0.1">40</text>
<line x1="225.30" y1="288.45" x2="333.20" y2="288.45" stroke="#d9d9d9" stroke-width="0.8"/>
<text x="221.20" y="290.45" font-size="8.0" text-anchor="end" fill="#4a4a4a" stroke="#4a4a4a" stroke-width="0.1">60</text>
<line x1="225.30" y1="270.27" x2="333.20" y2="270.27" stroke="#d9d9d9" stroke-width="0.8"/>
<text x="221.20" y="272.27" font-size="8.0" text-anchor="end" fill="#4a4a4a" stroke="#4a4a4a" stroke-width="0.1">80</text>
<line x1="225.30" y1="252.08" x2="333.20" y2="252.08" stroke="#d9d9d9" stroke-width="0.8"/>
<text x="221.20" y="254.08" font-size="8.0" text-anchor="end" fill="#4a4a4a" stroke="#4a4a4a" stroke-width="0.1">100</text>
<line x1="225.30" y1="233.90" x2="333.20" y2="233.90" stroke="#d9d9d9" stroke-width="0.8"/>
<text x="221.20" y="235.90" font-size="8.0" text-anchor="end" fill="#4a4a4a" stroke="#4a4a4a" stroke-width="0.1">120</text>
<text x="236.10" y="353.50" font-size="8.0" text-anchor="middle" fill="#4a4a4a" stroke="#4a4a4a" stroke-width="0.1">0</text>
<text x="257.70" y="353.50" font-size="8.0" text-anchor="middle" fill="#4a4a4a" stroke="#4a4a4a" stroke-width="0.1">0.1</text>
<text x="279.30" y="353.50" font-size="8.0" text-anchor="middle" fill="#4a4a4a" stroke="#4a4a4a" stroke-width="0.1">0.2</text>
<text x="301.00" y="353.50" font-size="8.0" text-anchor="middle" fill="#4a4a4a" stroke="#4a4a4a" stroke-width="0.1">0.3</text>
<text x="322.60" y="353.50" font-size="8.0" text-anchor="middle" fill="#4a4a4a" stroke="#4a4a4a" stroke-width="0.1">0.4</text>
<text x="279.30" y="364.40" font-size="7.8" text-anchor="middle" font-weight="bold" fill="#262626">HU Dose (mM)</text>
<text x="204.20" y="288.50" font-size="8.5" text-anchor="middle" font-weight="bold" fill="#262626" transform="rotate(-90 204.20 288.50)">Percentage cell survival</text>
<polyline points="236.10,252.08 257.70,254.81 279.30,266.63 301.00,284.81 322.60,300.27" fill="none" stroke="#5b9bd5" stroke-width="1.2" stroke-linejoin="round"/>
<polyline points="236.10,252.08 257.70,264.81 279.30,305.27 301.00,331.18 322.60,337.09" fill="none" stroke="#ed7d31" stroke-width="1.2" stroke-linejoin="round"/>
<polyline points="236.10,252.08 257.70,259.36 279.30,276.63 301.00,293.00 322.60,301.18" fill="none" stroke="#a5a5a5" stroke-width="1.2" stroke-linejoin="round"/>
<polyline points="236.10,252.08 257.70,265.72 279.30,288.00 301.00,302.54 322.60,308.45" fill="none" stroke="#ffc000" stroke-width="1.2" stroke-linejoin="round"/>
<line x1="257.70" y1="251.17" x2="257.70" y2="258.45" stroke="#404040" stroke-width="0.75"/>
<line x1="256.40" y1="251.17" x2="259.00" y2="251.17" stroke="#404040" stroke-width="0.75"/>
<line x1="256.40" y1="258.45" x2="259.00" y2="258.45" stroke="#404040" stroke-width="0.75"/>
<line x1="279.30" y1="260.27" x2="279.30" y2="272.99" stroke="#404040" stroke-width="0.75"/>
<line x1="278.00" y1="260.27" x2="280.60" y2="260.27" stroke="#404040" stroke-width="0.75"/>
<line x1="278.00" y1="272.99" x2="280.60" y2="272.99" stroke="#404040" stroke-width="0.75"/>
<line x1="301.00" y1="280.27" x2="301.00" y2="289.36" stroke="#404040" stroke-width="0.75"/>
<line x1="299.70" y1="280.27" x2="302.30" y2="280.27" stroke="#404040" stroke-width="0.75"/>
<line x1="299.70" y1="289.36" x2="302.30" y2="289.36" stroke="#404040" stroke-width="0.75"/>
<line x1="322.60" y1="294.81" x2="322.60" y2="305.72" stroke="#404040" stroke-width="0.75"/>
<line x1="321.30" y1="294.81" x2="323.90" y2="294.81" stroke="#404040" stroke-width="0.75"/>
<line x1="321.30" y1="305.72" x2="323.90" y2="305.72" stroke="#404040" stroke-width="0.75"/>
<line x1="257.70" y1="262.08" x2="257.70" y2="267.54" stroke="#404040" stroke-width="0.75"/>
<line x1="256.40" y1="262.08" x2="259.00" y2="262.08" stroke="#404040" stroke-width="0.75"/>
<line x1="256.40" y1="267.54" x2="259.00" y2="267.54" stroke="#404040" stroke-width="0.75"/>
<line x1="279.30" y1="299.36" x2="279.30" y2="311.18" stroke="#404040" stroke-width="0.75"/>
<line x1="278.00" y1="299.36" x2="280.60" y2="299.36" stroke="#404040" stroke-width="0.75"/>
<line x1="278.00" y1="311.18" x2="280.60" y2="311.18" stroke="#404040" stroke-width="0.75"/>
<line x1="301.00" y1="326.18" x2="301.00" y2="336.18" stroke="#404040" stroke-width="0.75"/>
<line x1="299.70" y1="326.18" x2="302.30" y2="326.18" stroke="#404040" stroke-width="0.75"/>
<line x1="299.70" y1="336.18" x2="302.30" y2="336.18" stroke="#404040" stroke-width="0.75"/>
<line x1="322.60" y1="335.27" x2="322.60" y2="338.91" stroke="#404040" stroke-width="0.75"/>
<line x1="321.30" y1="335.27" x2="323.90" y2="335.27" stroke="#404040" stroke-width="0.75"/>
<line x1="321.30" y1="338.91" x2="323.90" y2="338.91" stroke="#404040" stroke-width="0.75"/>
<line x1="257.70" y1="254.81" x2="257.70" y2="263.90" stroke="#404040" stroke-width="0.75"/>
<line x1="256.40" y1="254.81" x2="259.00" y2="254.81" stroke="#404040" stroke-width="0.75"/>
<line x1="256.40" y1="263.90" x2="259.00" y2="263.90" stroke="#404040" stroke-width="0.75"/>
<line x1="279.30" y1="271.18" x2="279.30" y2="282.09" stroke="#404040" stroke-width="0.75"/>
<line x1="278.00" y1="271.18" x2="280.60" y2="271.18" stroke="#404040" stroke-width="0.75"/>
<line x1="278.00" y1="282.09" x2="280.60" y2="282.09" stroke="#404040" stroke-width="0.75"/>
<line x1="301.00" y1="288.45" x2="301.00" y2="297.54" stroke="#404040" stroke-width="0.75"/>
<line x1="299.70" y1="288.45" x2="302.30" y2="288.45" stroke="#404040" stroke-width="0.75"/>
<line x1="299.70" y1="297.54" x2="302.30" y2="297.54" stroke="#404040" stroke-width="0.75"/>
<line x1="322.60" y1="296.63" x2="322.60" y2="305.72" stroke="#404040" stroke-width="0.75"/>
<line x1="321.30" y1="296.63" x2="323.90" y2="296.63" stroke="#404040" stroke-width="0.75"/>
<line x1="321.30" y1="305.72" x2="323.90" y2="305.72" stroke="#404040" stroke-width="0.75"/>
<line x1="257.70" y1="263.90" x2="257.70" y2="267.54" stroke="#404040" stroke-width="0.75"/>
<line x1="256.40" y1="263.90" x2="259.00" y2="263.90" stroke="#404040" stroke-width="0.75"/>
<line x1="256.40" y1="267.54" x2="259.00" y2="267.54" stroke="#404040" stroke-width="0.75"/>
<line x1="279.30" y1="286.63" x2="279.30" y2="289.36" stroke="#404040" stroke-width="0.75"/>
<line x1="278.00" y1="286.63" x2="280.60" y2="286.63" stroke="#404040" stroke-width="0.75"/>
<line x1="278.00" y1="289.36" x2="280.60" y2="289.36" stroke="#404040" stroke-width="0.75"/>
<line x1="301.00" y1="301.63" x2="301.00" y2="303.45" stroke="#404040" stroke-width="0.75"/>
<line x1="299.70" y1="301.63" x2="302.30" y2="301.63" stroke="#404040" stroke-width="0.75"/>
<line x1="299.70" y1="303.45" x2="302.30" y2="303.45" stroke="#404040" stroke-width="0.75"/>
<line x1="322.60" y1="307.09" x2="322.60" y2="309.82" stroke="#404040" stroke-width="0.75"/>
<line x1="321.30" y1="307.09" x2="323.90" y2="307.09" stroke="#404040" stroke-width="0.75"/>
<line x1="321.30" y1="309.82" x2="323.90" y2="309.82" stroke="#404040" stroke-width="0.75"/>
<line x1="336.20" y1="280.50" x2="348.60" y2="280.50" stroke="#5b9bd5" stroke-width="1.2"/>
<text x="353.70" y="283.40" font-size="8.2" text-anchor="start" fill="#4a4a4a" stroke="#4a4a4a" stroke-width="0.1">siLuc</text>
<line x1="336.20" y1="291.40" x2="348.60" y2="291.40" stroke="#ed7d31" stroke-width="1.2"/>
<text x="353.70" y="294.30" font-size="8.2" text-anchor="start" fill="#4a4a4a" stroke="#4a4a4a" stroke-width="0.1">siBRCA2</text>
<line x1="336.20" y1="302.10" x2="348.60" y2="302.10" stroke="#a5a5a5" stroke-width="1.2"/>
<text x="353.70" y="305.00" font-size="8.2" text-anchor="start" fill="#4a4a4a" stroke="#4a4a4a" stroke-width="0.1">siUNG2#3</text>
<line x1="336.20" y1="313.00" x2="348.60" y2="313.00" stroke="#ffc000" stroke-width="1.2"/>
<text x="353.70" y="315.90" font-size="8.2" text-anchor="start" fill="#4a4a4a" stroke="#4a4a4a" stroke-width="0.1">siBRCA2+siUNG2#3</text>
<text x="430.80" y="222.70" font-size="16" text-anchor="start" font-weight="bold" fill="#000">e</text>
<line x1="472.80" y1="341.40" x2="588.70" y2="341.40" stroke="#d9d9d9" stroke-width="0.8"/>
<text x="470.20" y="343.40" font-size="8.0" text-anchor="end" fill="#4a4a4a" stroke="#4a4a4a" stroke-width="0.1">0</text>
<line x1="472.80" y1="323.40" x2="588.70" y2="323.40" stroke="#d9d9d9" stroke-width="0.8"/>
<text x="470.20" y="325.40" font-size="8.0" text-anchor="end" fill="#4a4a4a" stroke="#4a4a4a" stroke-width="0.1">20</text>
<line x1="472.80" y1="305.40" x2="588.70" y2="305.40" stroke="#d9d9d9" stroke-width="0.8"/>
<text x="470.20" y="307.40" font-size="8.0" text-anchor="end" fill="#4a4a4a" stroke="#4a4a4a" stroke-width="0.1">40</text>
<line x1="472.80" y1="287.40" x2="588.70" y2="287.40" stroke="#d9d9d9" stroke-width="0.8"/>
<text x="470.20" y="289.40" font-size="8.0" text-anchor="end" fill="#4a4a4a" stroke="#4a4a4a" stroke-width="0.1">60</text>
<line x1="472.80" y1="269.40" x2="588.70" y2="269.40" stroke="#d9d9d9" stroke-width="0.8"/>
<text x="470.20" y="271.40" font-size="8.0" text-anchor="end" fill="#4a4a4a" stroke="#4a4a4a" stroke-width="0.1">80</text>
<line x1="472.80" y1="251.40" x2="588.70" y2="251.40" stroke="#d9d9d9" stroke-width="0.8"/>
<text x="470.20" y="253.40" font-size="8.0" text-anchor="end" fill="#4a4a4a" stroke="#4a4a4a" stroke-width="0.1">100</text>
<line x1="472.80" y1="233.40" x2="588.70" y2="233.40" stroke="#d9d9d9" stroke-width="0.8"/>
<text x="470.20" y="235.40" font-size="8.0" text-anchor="end" fill="#4a4a4a" stroke="#4a4a4a" stroke-width="0.1">120</text>
<text x="484.50" y="350.30" font-size="8.0" text-anchor="middle" fill="#4a4a4a" stroke="#4a4a4a" stroke-width="0.1">0</text>
<text x="507.70" y="350.30" font-size="8.0" text-anchor="middle" fill="#4a4a4a" stroke="#4a4a4a" stroke-width="0.1">0.3</text>
<text x="530.70" y="350.30" font-size="8.0" text-anchor="middle" fill="#4a4a4a" stroke="#4a4a4a" stroke-width="0.1">0.6</text>
<text x="553.80" y="350.30" font-size="8.0" text-anchor="middle" fill="#4a4a4a" stroke="#4a4a4a" stroke-width="0.1">0.9</text>
<text x="577.00" y="350.30" font-size="8.0" text-anchor="middle" fill="#4a4a4a" stroke="#4a4a4a" stroke-width="0.1">1.2</text>
<text x="531.40" y="361.80" font-size="7.8" text-anchor="middle" font-weight="bold" fill="#262626">Cisplatin Dose (μM)</text>
<text x="456.20" y="288.50" font-size="8.5" text-anchor="middle" font-weight="bold" fill="#262626" transform="rotate(-90 456.20 288.50)">Percentage cell survival</text>
<polyline points="484.50,251.40 507.70,248.70 530.70,248.25 553.80,252.30 577.00,291.00" fill="none" stroke="#5b9bd5" stroke-width="1.2" stroke-linejoin="round"/>
<polyline points="484.50,251.40 507.70,299.10 530.70,300.90 553.80,312.15 577.00,312.15" fill="none" stroke="#ed7d31" stroke-width="1.2" stroke-linejoin="round"/>
<polyline points="484.50,251.40 507.70,249.60 530.70,248.70 553.80,259.50 577.00,294.60" fill="none" stroke="#a5a5a5" stroke-width="1.2" stroke-linejoin="round"/>
<polyline points="484.50,251.40 507.70,255.90 530.70,259.50 553.80,283.80 577.00,299.10" fill="none" stroke="#ffc000" stroke-width="1.2" stroke-linejoin="round"/>
<line x1="507.70" y1="244.20" x2="507.70" y2="253.20" stroke="#404040" stroke-width="0.75"/>
<line x1="506.40" y1="244.20" x2="509.00" y2="244.20" stroke="#404040" stroke-width="0.75"/>
<line x1="506.40" y1="253.20" x2="509.00" y2="253.20" stroke="#404040" stroke-width="0.75"/>
<line x1="530.70" y1="243.75" x2="530.70" y2="252.75" stroke="#404040" stroke-width="0.75"/>
<line x1="529.40" y1="243.75" x2="532.00" y2="243.75" stroke="#404040" stroke-width="0.75"/>
<line x1="529.40" y1="252.75" x2="532.00" y2="252.75" stroke="#404040" stroke-width="0.75"/>
<line x1="553.80" y1="247.35" x2="553.80" y2="257.25" stroke="#404040" stroke-width="0.75"/>
<line x1="552.50" y1="247.35" x2="555.10" y2="247.35" stroke="#404040" stroke-width="0.75"/>
<line x1="552.50" y1="257.25" x2="555.10" y2="257.25" stroke="#404040" stroke-width="0.75"/>
<line x1="577.00" y1="284.70" x2="577.00" y2="297.30" stroke="#404040" stroke-width="0.75"/>
<line x1="575.70" y1="284.70" x2="578.30" y2="284.70" stroke="#404040" stroke-width="0.75"/>
<line x1="575.70" y1="297.30" x2="578.30" y2="297.30" stroke="#404040" stroke-width="0.75"/>
<line x1="507.70" y1="295.50" x2="507.70" y2="302.70" stroke="#404040" stroke-width="0.75"/>
<line x1="506.40" y1="295.50" x2="509.00" y2="295.50" stroke="#404040" stroke-width="0.75"/>
<line x1="506.40" y1="302.70" x2="509.00" y2="302.70" stroke="#404040" stroke-width="0.75"/>
<line x1="530.70" y1="296.40" x2="530.70" y2="305.40" stroke="#404040" stroke-width="0.75"/>
<line x1="529.40" y1="296.40" x2="532.00" y2="296.40" stroke="#404040" stroke-width="0.75"/>
<line x1="529.40" y1="305.40" x2="532.00" y2="305.40" stroke="#404040" stroke-width="0.75"/>
<line x1="553.80" y1="307.20" x2="553.80" y2="317.10" stroke="#404040" stroke-width="0.75"/>
<line x1="552.50" y1="307.20" x2="555.10" y2="307.20" stroke="#404040" stroke-width="0.75"/>
<line x1="552.50" y1="317.10" x2="555.10" y2="317.10" stroke="#404040" stroke-width="0.75"/>
<line x1="577.00" y1="308.10" x2="577.00" y2="316.20" stroke="#404040" stroke-width="0.75"/>
<line x1="575.70" y1="308.10" x2="578.30" y2="308.10" stroke="#404040" stroke-width="0.75"/>
<line x1="575.70" y1="316.20" x2="578.30" y2="316.20" stroke="#404040" stroke-width="0.75"/>
<line x1="507.70" y1="246.00" x2="507.70" y2="253.20" stroke="#404040" stroke-width="0.75"/>
<line x1="506.40" y1="246.00" x2="509.00" y2="246.00" stroke="#404040" stroke-width="0.75"/>
<line x1="506.40" y1="253.20" x2="509.00" y2="253.20" stroke="#404040" stroke-width="0.75"/>
<line x1="530.70" y1="245.10" x2="530.70" y2="252.30" stroke="#404040" stroke-width="0.75"/>
<line x1="529.40" y1="245.10" x2="532.00" y2="245.10" stroke="#404040" stroke-width="0.75"/>
<line x1="529.40" y1="252.30" x2="532.00" y2="252.30" stroke="#404040" stroke-width="0.75"/>
<line x1="553.80" y1="255.00" x2="553.80" y2="264.00" stroke="#404040" stroke-width="0.75"/>
<line x1="552.50" y1="255.00" x2="555.10" y2="255.00" stroke="#404040" stroke-width="0.75"/>
<line x1="552.50" y1="264.00" x2="555.10" y2="264.00" stroke="#404040" stroke-width="0.75"/>
<line x1="577.00" y1="289.20" x2="577.00" y2="300.00" stroke="#404040" stroke-width="0.75"/>
<line x1="575.70" y1="289.20" x2="578.30" y2="289.20" stroke="#404040" stroke-width="0.75"/>
<line x1="575.70" y1="300.00" x2="578.30" y2="300.00" stroke="#404040" stroke-width="0.75"/>
<line x1="507.70" y1="252.30" x2="507.70" y2="259.50" stroke="#404040" stroke-width="0.75"/>
<line x1="506.40" y1="252.30" x2="509.00" y2="252.30" stroke="#404040" stroke-width="0.75"/>
<line x1="506.40" y1="259.50" x2="509.00" y2="259.50" stroke="#404040" stroke-width="0.75"/>
<line x1="530.70" y1="255.00" x2="530.70" y2="264.00" stroke="#404040" stroke-width="0.75"/>
<line x1="529.40" y1="255.00" x2="532.00" y2="255.00" stroke="#404040" stroke-width="0.75"/>
<line x1="529.40" y1="264.00" x2="532.00" y2="264.00" stroke="#404040" stroke-width="0.75"/>
<line x1="553.80" y1="279.75" x2="553.80" y2="287.85" stroke="#404040" stroke-width="0.75"/>
<line x1="552.50" y1="279.75" x2="555.10" y2="279.75" stroke="#404040" stroke-width="0.75"/>
<line x1="552.50" y1="287.85" x2="555.10" y2="287.85" stroke="#404040" stroke-width="0.75"/>
<line x1="577.00" y1="294.60" x2="577.00" y2="303.60" stroke="#404040" stroke-width="0.75"/>
<line x1="575.70" y1="294.60" x2="578.30" y2="294.60" stroke="#404040" stroke-width="0.75"/>
<line x1="575.70" y1="303.60" x2="578.30" y2="303.60" stroke="#404040" stroke-width="0.75"/>
<line x1="592.10" y1="272.20" x2="605.70" y2="272.20" stroke="#5b9bd5" stroke-width="1.2"/>
<text x="609.60" y="275.10" font-size="8.2" text-anchor="start" fill="#4a4a4a" stroke="#4a4a4a" stroke-width="0.1">siLuc</text>
<line x1="592.10" y1="282.80" x2="605.70" y2="282.80" stroke="#ed7d31" stroke-width="1.2"/>
<text x="609.60" y="285.70" font-size="8.2" text-anchor="start" fill="#4a4a4a" stroke="#4a4a4a" stroke-width="0.1">siBRCA2</text>
<line x1="592.10" y1="293.70" x2="605.70" y2="293.70" stroke="#a5a5a5" stroke-width="1.2"/>
<text x="609.60" y="296.60" font-size="8.2" text-anchor="start" fill="#4a4a4a" stroke="#4a4a4a" stroke-width="0.1">siUNG2#3</text>
<line x1="592.10" y1="304.20" x2="605.70" y2="304.20" stroke="#ffc000" stroke-width="1.2"/>
<text x="609.60" y="307.10" font-size="8.2" text-anchor="start" fill="#4a4a4a" stroke="#4a4a4a" stroke-width="0.1">siBRCA2+siUNG2#3</text>
<text x="1.00" y="384.60" font-size="16" text-anchor="start" font-weight="bold" fill="#000">f</text>
<text x="80.80" y="399.50" font-size="7" text-anchor="middle" fill="#000" stroke="#000" stroke-width="0.1">U2OS</text>
<line x1="51.80" y1="401.40" x2="112.00" y2="401.40" stroke="#000" stroke-width="0.7"/>
<text x="57.30" y="435.70" font-size="7.8" text-anchor="start" fill="#000" stroke="#000" stroke-width="0.1" transform="rotate(-90 57.30 435.70)">siLuc</text>
<text x="76.30" y="435.70" font-size="7.8" text-anchor="start" fill="#000" stroke="#000" stroke-width="0.1" transform="rotate(-90 76.30 435.70)">siBRCA2</text>
<text x="94.70" y="435.70" font-size="7.8" text-anchor="start" fill="#000" stroke="#000" stroke-width="0.1" transform="rotate(-90 94.70 435.70)">UNG2 KO</text>
<text x="109.30" y="435.70" font-size="7.8" text-anchor="start" fill="#000" stroke="#000" stroke-width="0.1" transform="rotate(-90 109.30 435.70)">siBRCA2+</text>
<text x="118.00" y="435.70" font-size="7.8" text-anchor="start" fill="#000" stroke="#000" stroke-width="0.1" transform="rotate(-90 118.00 435.70)">UNG2 KO</text>
<text x="23.90" y="439.60" font-size="7.5" text-anchor="start" fill="#000" stroke="#000" stroke-width="0.1">kDa</text>
<rect x="42.80" y="437.40" width="77.90" height="16.80" fill="#c8c8c8"/>
<rect x="42.80" y="455.90" width="77.90" height="17.00" fill="#c6c6c6"/>
<rect x="42.80" y="475.20" width="77.90" height="16.50" fill="#c9c9c9"/>
<rect x="49.50" y="443.50" width="12.00" height="8.00" rx="3.00" fill="#777" fill-opacity="0.45" filter="url(#bl)"/>
<rect x="48.90" y="441.60" width="12.30" height="2.60" rx="1.30" fill="#111" fill-opacity="0.95" filter="url(#bl)"/>
<rect x="48.90" y="448.70" width="12.30" height="2.20" rx="1.10" fill="#444" fill-opacity="0.7" filter="url(#bl)"/>
<rect x="66.40" y="444.00" width="13.20" height="7.00" rx="3.00" fill="#999" fill-opacity="0.3" filter="url(#bl)"/>
<rect x="66.40" y="442.70" width="13.20" height="1.60" rx="0.80" fill="#777" fill-opacity="0.45" filter="url(#bl)"/>
<rect x="66.40" y="449.20" width="13.20" height="2.00" rx="1.00" fill="#666" fill-opacity="0.55" filter="url(#bl)"/>
<rect x="85.50" y="438.25" width="12.00" height="6.50" rx="3.00" fill="#222" fill-opacity="0.75" filter="url(#bl)"/>
<rect x="85.50" y="442.30" width="11.50" height="2.60" rx="1.30" fill="#0a0a0a" fill-opacity="0.9" filter="url(#bl)"/>
<rect x="85.50" y="445.00" width="11.50" height="5.00" rx="2.50" fill="#888" fill-opacity="0.4" filter="url(#bl)"/>
<rect x="85.70" y="449.00" width="11.30" height="2.00" rx="1.00" fill="#555" fill-opacity="0.6" filter="url(#bl)"/>
<rect x="102.70" y="445.20" width="12.80" height="1.60" rx="0.80" fill="#999" fill-opacity="0.4" filter="url(#bl)"/>
<rect x="102.70" y="450.70" width="12.80" height="1.60" rx="0.80" fill="#999" fill-opacity="0.4" filter="url(#bl)"/>
<rect x="48.90" y="461.60" width="12.80" height="5.20" rx="2.60" fill="#080808" fill-opacity="1" filter="url(#bl)"/>
<rect x="66.40" y="462.90" width="13.20" height="4.20" rx="2.10" fill="#080808" fill-opacity="1" filter="url(#bl)"/>
<rect x="84.80" y="463.20" width="12.60" height="4.00" rx="2.00" fill="#080808" fill-opacity="1" filter="url(#bl)"/>
<rect x="102.70" y="463.70" width="12.80" height="3.80" rx="1.90" fill="#080808" fill-opacity="1" filter="url(#bl)"/>
<rect x="48.00" y="476.90" width="15.80" height="13.00" rx="3.00" fill="#030303" fill-opacity="1" filter="url(#bl)"/>
<rect x="66.40" y="479.20" width="14.00" height="7.60" rx="3.00" fill="#050505" fill-opacity="1" filter="url(#bl)"/>
<rect x="85.70" y="481.30" width="11.30" height="3.40" rx="1.70" fill="#999" fill-opacity="0.7" filter="url(#bl)"/>
<rect x="102.70" y="481.50" width="12.30" height="3.00" rx="1.50" fill="#aaa" fill-opacity="0.6" filter="url(#bl)"/>
<rect x="118.80" y="480.00" width="2.70" height="6.00" rx="3.00" fill="#111" fill-opacity="0.9" filter="url(#bl)"/>
<text x="36.10" y="455.00" font-size="7.5" text-anchor="end" fill="#000" stroke="#000" stroke-width="0.1">198</text>
<line x1="37.10" y1="452.40" x2="41.10" y2="452.40" stroke="#444" stroke-width="0.6"/>
<text x="36.10" y="474.30" font-size="7.5" text-anchor="end" fill="#000" stroke="#000" stroke-width="0.1">98</text>
<line x1="37.10" y1="471.70" x2="41.10" y2="471.70" stroke="#444" stroke-width="0.6"/>
<text x="36.10" y="490.90" font-size="7.5" text-anchor="end" fill="#000" stroke="#000" stroke-width="0.1">38</text>
<line x1="37.10" y1="488.30" x2="41.10" y2="488.30" stroke="#444" stroke-width="0.6"/>
<line x1="124.20" y1="444.90" x2="128.80" y2="444.90" stroke="#333" stroke-width="0.6"/>
<text x="131.00" y="447.50" font-size="7.2" text-anchor="start" fill="#000" stroke="#000" stroke-width="0.1">BRCA2</text>
<line x1="124.20" y1="466.80" x2="128.80" y2="466.80" stroke="#333" stroke-width="0.6"/>
<text x="131.00" y="469.40" font-size="7.2" text-anchor="start" fill="#000" stroke="#000" stroke-width="0.1">Vinculin</text>
<line x1="124.20" y1="485.70" x2="128.80" y2="485.70" stroke="#333" stroke-width="0.6"/>
<text x="131.00" y="488.30" font-size="7.2" text-anchor="start" fill="#000" stroke="#000" stroke-width="0.1">UNG2</text>
<text x="175.50" y="382.40" font-size="16" text-anchor="start" font-weight="bold" fill="#000">g</text>
<line x1="224.60" y1="502.20" x2="336.00" y2="502.20" stroke="#d9d9d9" stroke-width="0.8"/>
<text x="221.00" y="505.00" font-size="8.0" text-anchor="end" fill="#4a4a4a" stroke="#4a4a4a" stroke-width="0.1">0</text>
<line x1="224.60" y1="484.05" x2="336.00" y2="484.05" stroke="#d9d9d9" stroke-width="0.8"/>
<text x="221.00" y="486.85" font-size="8.0" text-anchor="end" fill="#4a4a4a" stroke="#4a4a4a" stroke-width="0.1">20</text>
<line x1="224.60" y1="465.90" x2="336.00" y2="465.90" stroke="#d9d9d9" stroke-width="0.8"/>
<text x="221.00" y="468.70" font-size="8.0" text-anchor="end" fill="#4a4a4a" stroke="#4a4a4a" stroke-width="0.1">40</text>
<line x1="224.60" y1="447.75" x2="336.00" y2="447.75" stroke="#d9d9d9" stroke-width="0.8"/>
<text x="221.00" y="450.55" font-size="8.0" text-anchor="end" fill="#4a4a4a" stroke="#4a4a4a" stroke-width="0.1">60</text>
<line x1="224.60" y1="429.60" x2="336.00" y2="429.60" stroke="#d9d9d9" stroke-width="0.8"/>
<text x="221.00" y="432.40" font-size="8.0" text-anchor="end" fill="#4a4a4a" stroke="#4a4a4a" stroke-width="0.1">80</text>
<line x1="224.60" y1="411.45" x2="336.00" y2="411.45" stroke="#d9d9d9" stroke-width="0.8"/>
<text x="221.00" y="414.25" font-size="8.0" text-anchor="end" fill="#4a4a4a" stroke="#4a4a4a" stroke-width="0.1">100</text>
<line x1="224.60" y1="393.30" x2="336.00" y2="393.30" stroke="#d9d9d9" stroke-width="0.8"/>
<text x="221.00" y="396.10" font-size="8.0" text-anchor="end" fill="#4a4a4a" stroke="#4a4a4a" stroke-width="0.1">120</text>
<text x="236.00" y="513.10" font-size="8.0" text-anchor="middle" fill="#4a4a4a" stroke="#4a4a4a" stroke-width="0.1">0</text>
<text x="258.20" y="513.10" font-size="8.0" text-anchor="middle" fill="#4a4a4a" stroke="#4a4a4a" stroke-width="0.1">0.1</text>
<text x="280.40" y="513.10" font-size="8.0" text-anchor="middle" fill="#4a4a4a" stroke="#4a4a4a" stroke-width="0.1">0.2</text>
<text x="302.60" y="513.10" font-size="8.0" text-anchor="middle" fill="#4a4a4a" stroke="#4a4a4a" stroke-width="0.1">0.3</text>
<text x="324.80" y="513.10" font-size="8.0" text-anchor="middle" fill="#4a4a4a" stroke="#4a4a4a" stroke-width="0.1">0.4</text>
<text x="271.50" y="523.00" font-size="7.8" text-anchor="middle" font-weight="bold" fill="#262626">HU Dose (mM)</text>
<text x="205.00" y="448.30" font-size="8.5" text-anchor="middle" font-weight="bold" fill="#262626" transform="rotate(-90 205.00 448.30)">Percentage cell survival</text>
<polyline points="236.00,411.45 258.20,429.60 280.40,434.14 302.60,444.12 324.80,447.75" fill="none" stroke="#5b9bd5" stroke-width="1.2" stroke-linejoin="round"/>
<polyline points="236.00,411.45 258.20,434.41 280.40,466.81 302.60,483.78 324.80,494.03" fill="none" stroke="#ed7d31" stroke-width="1.2" stroke-linejoin="round"/>
<polyline points="236.00,411.45 258.20,423.70 280.40,421.98 302.60,436.50 324.80,447.30" fill="none" stroke="#70ad47" stroke-width="1.2" stroke-linejoin="round"/>
<polyline points="236.00,411.45 258.20,420.16 280.40,430.69 302.60,445.03 324.80,456.82" fill="none" stroke="#9e480e" stroke-width="1.2" stroke-linejoin="round"/>
<line x1="258.20" y1="428.69" x2="258.20" y2="430.51" stroke="#404040" stroke-width="0.75"/>
<line x1="256.90" y1="428.69" x2="259.50" y2="428.69" stroke="#404040" stroke-width="0.75"/>
<line x1="256.90" y1="430.51" x2="259.50" y2="430.51" stroke="#404040" stroke-width="0.75"/>
<line x1="280.40" y1="432.32" x2="280.40" y2="435.95" stroke="#404040" stroke-width="0.75"/>
<line x1="279.10" y1="432.32" x2="281.70" y2="432.32" stroke="#404040" stroke-width="0.75"/>
<line x1="279.10" y1="435.95" x2="281.70" y2="435.95" stroke="#404040" stroke-width="0.75"/>
<line x1="302.60" y1="442.31" x2="302.60" y2="445.94" stroke="#404040" stroke-width="0.75"/>
<line x1="301.30" y1="442.31" x2="303.90" y2="442.31" stroke="#404040" stroke-width="0.75"/>
<line x1="301.30" y1="445.94" x2="303.90" y2="445.94" stroke="#404040" stroke-width="0.75"/>
<line x1="324.80" y1="446.84" x2="324.80" y2="448.66" stroke="#404040" stroke-width="0.75"/>
<line x1="323.50" y1="446.84" x2="326.10" y2="446.84" stroke="#404040" stroke-width="0.75"/>
<line x1="323.50" y1="448.66" x2="326.10" y2="448.66" stroke="#404040" stroke-width="0.75"/>
<line x1="302.60" y1="482.42" x2="302.60" y2="485.14" stroke="#404040" stroke-width="0.75"/>
<line x1="301.30" y1="482.42" x2="303.90" y2="482.42" stroke="#404040" stroke-width="0.75"/>
<line x1="301.30" y1="485.14" x2="303.90" y2="485.14" stroke="#404040" stroke-width="0.75"/>
<line x1="324.80" y1="493.58" x2="324.80" y2="494.49" stroke="#404040" stroke-width="0.75"/>
<line x1="323.50" y1="493.58" x2="326.10" y2="493.58" stroke="#404040" stroke-width="0.75"/>
<line x1="323.50" y1="494.49" x2="326.10" y2="494.49" stroke="#404040" stroke-width="0.75"/>
<line x1="258.20" y1="422.79" x2="258.20" y2="424.61" stroke="#404040" stroke-width="0.75"/>
<line x1="256.90" y1="422.79" x2="259.50" y2="422.79" stroke="#404040" stroke-width="0.75"/>
<line x1="256.90" y1="424.61" x2="259.50" y2="424.61" stroke="#404040" stroke-width="0.75"/>
<line x1="280.40" y1="418.35" x2="280.40" y2="425.61" stroke="#404040" stroke-width="0.75"/>
<line x1="279.10" y1="418.35" x2="281.70" y2="418.35" stroke="#404040" stroke-width="0.75"/>
<line x1="279.10" y1="425.61" x2="281.70" y2="425.61" stroke="#404040" stroke-width="0.75"/>
<line x1="302.60" y1="435.14" x2="302.60" y2="437.86" stroke="#404040" stroke-width="0.75"/>
<line x1="301.30" y1="435.14" x2="303.90" y2="435.14" stroke="#404040" stroke-width="0.75"/>
<line x1="301.30" y1="437.86" x2="303.90" y2="437.86" stroke="#404040" stroke-width="0.75"/>
<line x1="324.80" y1="446.39" x2="324.80" y2="448.20" stroke="#404040" stroke-width="0.75"/>
<line x1="323.50" y1="446.39" x2="326.10" y2="446.39" stroke="#404040" stroke-width="0.75"/>
<line x1="323.50" y1="448.20" x2="326.10" y2="448.20" stroke="#404040" stroke-width="0.75"/>
<line x1="258.20" y1="418.80" x2="258.20" y2="421.52" stroke="#404040" stroke-width="0.75"/>
<line x1="256.90" y1="418.80" x2="259.50" y2="418.80" stroke="#404040" stroke-width="0.75"/>
<line x1="256.90" y1="421.52" x2="259.50" y2="421.52" stroke="#404040" stroke-width="0.75"/>
<line x1="280.40" y1="428.87" x2="280.40" y2="432.50" stroke="#404040" stroke-width="0.75"/>
<line x1="279.10" y1="428.87" x2="281.70" y2="428.87" stroke="#404040" stroke-width="0.75"/>
<line x1="279.10" y1="432.50" x2="281.70" y2="432.50" stroke="#404040" stroke-width="0.75"/>
<line x1="302.60" y1="442.76" x2="302.60" y2="447.30" stroke="#404040" stroke-width="0.75"/>
<line x1="301.30" y1="442.76" x2="303.90" y2="442.76" stroke="#404040" stroke-width="0.75"/>
<line x1="301.30" y1="447.30" x2="303.90" y2="447.30" stroke="#404040" stroke-width="0.75"/>
<line x1="324.80" y1="453.19" x2="324.80" y2="460.45" stroke="#404040" stroke-width="0.75"/>
<line x1="323.50" y1="453.19" x2="326.10" y2="453.19" stroke="#404040" stroke-width="0.75"/>
<line x1="323.50" y1="460.45" x2="326.10" y2="460.45" stroke="#404040" stroke-width="0.75"/>
<line x1="344.20" y1="429.50" x2="357.00" y2="429.50" stroke="#5b9bd5" stroke-width="1.2"/>
<text x="361.40" y="432.40" font-size="8.2" text-anchor="start" fill="#4a4a4a" stroke="#4a4a4a" stroke-width="0.1">siLuc</text>
<line x1="344.20" y1="440.00" x2="357.00" y2="440.00" stroke="#ed7d31" stroke-width="1.2"/>
<text x="361.40" y="442.90" font-size="8.2" text-anchor="start" fill="#4a4a4a" stroke="#4a4a4a" stroke-width="0.1">siBRCA2</text>
<line x1="344.20" y1="450.50" x2="357.00" y2="450.50" stroke="#70ad47" stroke-width="1.2"/>
<text x="361.40" y="453.40" font-size="8.2" text-anchor="start" fill="#4a4a4a" stroke="#4a4a4a" stroke-width="0.1">siLuc+UNG2 KO</text>
<line x1="344.20" y1="461.50" x2="357.00" y2="461.50" stroke="#9e480e" stroke-width="1.2"/>
<text x="361.40" y="464.40" font-size="8.2" text-anchor="start" fill="#4a4a4a" stroke="#4a4a4a" stroke-width="0.1">siBRCA2+UNG2 KO</text>
<text x="430.60" y="385.10" font-size="16" text-anchor="start" font-weight="bold" fill="#000">h</text>
<line x1="471.50" y1="501.10" x2="587.60" y2="501.10" stroke="#d9d9d9" stroke-width="0.8"/>
<text x="470.80" y="504.60" font-size="8.0" text-anchor="end" fill="#4a4a4a" stroke="#4a4a4a" stroke-width="0.1">0</text>
<line x1="471.50" y1="483.62" x2="587.60" y2="483.62" stroke="#d9d9d9" stroke-width="0.8"/>
<text x="470.80" y="487.12" font-size="8.0" text-anchor="end" fill="#4a4a4a" stroke="#4a4a4a" stroke-width="0.1">20</text>
<line x1="471.50" y1="466.13" x2="587.60" y2="466.13" stroke="#d9d9d9" stroke-width="0.8"/>
<text x="470.80" y="469.63" font-size="8.0" text-anchor="end" fill="#4a4a4a" stroke="#4a4a4a" stroke-width="0.1">40</text>
<line x1="471.50" y1="448.65" x2="587.60" y2="448.65" stroke="#d9d9d9" stroke-width="0.8"/>
<text x="470.80" y="452.15" font-size="8.0" text-anchor="end" fill="#4a4a4a" stroke="#4a4a4a" stroke-width="0.1">60</text>
<line x1="471.50" y1="431.17" x2="587.60" y2="431.17" stroke="#d9d9d9" stroke-width="0.8"/>
<text x="470.80" y="434.67" font-size="8.0" text-anchor="end" fill="#4a4a4a" stroke="#4a4a4a" stroke-width="0.1">80</text>
<line x1="471.50" y1="413.68" x2="587.60" y2="413.68" stroke="#d9d9d9" stroke-width="0.8"/>
<text x="470.80" y="417.18" font-size="8.0" text-anchor="end" fill="#4a4a4a" stroke="#4a4a4a" stroke-width="0.1">100</text>
<line x1="471.50" y1="396.20" x2="587.60" y2="396.20" stroke="#d9d9d9" stroke-width="0.8"/>
<text x="470.80" y="399.70" font-size="8.0" text-anchor="end" fill="#4a4a4a" stroke="#4a4a4a" stroke-width="0.1">120</text>
<text x="483.70" y="510.70" font-size="8.0" text-anchor="middle" fill="#4a4a4a" stroke="#4a4a4a" stroke-width="0.1">0</text>
<text x="506.70" y="510.70" font-size="8.0" text-anchor="middle" fill="#4a4a4a" stroke="#4a4a4a" stroke-width="0.1">0.15</text>
<text x="529.70" y="510.70" font-size="8.0" text-anchor="middle" fill="#4a4a4a" stroke="#4a4a4a" stroke-width="0.1">0.3</text>
<text x="552.80" y="510.70" font-size="8.0" text-anchor="middle" fill="#4a4a4a" stroke="#4a4a4a" stroke-width="0.1">0.45</text>
<text x="575.90" y="510.70" font-size="8.0" text-anchor="middle" fill="#4a4a4a" stroke="#4a4a4a" stroke-width="0.1">0.6</text>
<text x="531.70" y="521.70" font-size="7.8" text-anchor="middle" font-weight="bold" fill="#262626">Cisplatin Dose (μM)</text>
<text x="456.50" y="449.80" font-size="7.95" text-anchor="middle" font-weight="bold" fill="#262626" transform="rotate(-90 456.50 449.80)">Percentage cell survival</text>
<polyline points="483.70,413.68 506.70,424.17 529.70,414.82 552.80,422.43 575.90,429.42" fill="none" stroke="#5b9bd5" stroke-width="1.2" stroke-linejoin="round"/>
<polyline points="483.70,413.68 506.70,451.01 529.70,459.58 552.80,464.38 575.90,468.93" fill="none" stroke="#ed7d31" stroke-width="1.2" stroke-linejoin="round"/>
<polyline points="483.70,413.68 506.70,419.80 529.70,422.77 552.80,422.43 575.90,419.98" fill="none" stroke="#70ad47" stroke-width="1.2" stroke-linejoin="round"/>
<polyline points="483.70,413.68 506.70,423.30 529.70,428.54 552.80,437.72 575.90,433.79" fill="none" stroke="#9e480e" stroke-width="1.2" stroke-linejoin="round"/>
<line x1="506.70" y1="420.68" x2="506.70" y2="427.67" stroke="#404040" stroke-width="0.75"/>
<line x1="505.40" y1="420.68" x2="508.00" y2="420.68" stroke="#404040" stroke-width="0.75"/>
<line x1="505.40" y1="427.67" x2="508.00" y2="427.67" stroke="#404040" stroke-width="0.75"/>
<line x1="529.70" y1="412.20" x2="529.70" y2="417.44" stroke="#404040" stroke-width="0.75"/>
<line x1="528.40" y1="412.20" x2="531.00" y2="412.20" stroke="#404040" stroke-width="0.75"/>
<line x1="528.40" y1="417.44" x2="531.00" y2="417.44" stroke="#404040" stroke-width="0.75"/>
<line x1="552.80" y1="420.24" x2="552.80" y2="424.61" stroke="#404040" stroke-width="0.75"/>
<line x1="551.50" y1="420.24" x2="554.10" y2="420.24" stroke="#404040" stroke-width="0.75"/>
<line x1="551.50" y1="424.61" x2="554.10" y2="424.61" stroke="#404040" stroke-width="0.75"/>
<line x1="575.90" y1="426.80" x2="575.90" y2="432.04" stroke="#404040" stroke-width="0.75"/>
<line x1="574.60" y1="426.80" x2="577.20" y2="426.80" stroke="#404040" stroke-width="0.75"/>
<line x1="574.60" y1="432.04" x2="577.20" y2="432.04" stroke="#404040" stroke-width="0.75"/>
<line x1="506.70" y1="449.26" x2="506.70" y2="452.76" stroke="#404040" stroke-width="0.75"/>
<line x1="505.40" y1="449.26" x2="508.00" y2="449.26" stroke="#404040" stroke-width="0.75"/>
<line x1="505.40" y1="452.76" x2="508.00" y2="452.76" stroke="#404040" stroke-width="0.75"/>
<line x1="529.70" y1="457.39" x2="529.70" y2="461.76" stroke="#404040" stroke-width="0.75"/>
<line x1="528.40" y1="457.39" x2="531.00" y2="457.39" stroke="#404040" stroke-width="0.75"/>
<line x1="528.40" y1="461.76" x2="531.00" y2="461.76" stroke="#404040" stroke-width="0.75"/>
<line x1="552.80" y1="463.69" x2="552.80" y2="465.08" stroke="#404040" stroke-width="0.75"/>
<line x1="551.50" y1="463.69" x2="554.10" y2="463.69" stroke="#404040" stroke-width="0.75"/>
<line x1="551.50" y1="465.08" x2="554.10" y2="465.08" stroke="#404040" stroke-width="0.75"/>
<line x1="575.90" y1="468.23" x2="575.90" y2="469.63" stroke="#404040" stroke-width="0.75"/>
<line x1="574.60" y1="468.23" x2="577.20" y2="468.23" stroke="#404040" stroke-width="0.75"/>
<line x1="574.60" y1="469.63" x2="577.20" y2="469.63" stroke="#404040" stroke-width="0.75"/>
<line x1="506.70" y1="417.18" x2="506.70" y2="422.43" stroke="#404040" stroke-width="0.75"/>
<line x1="505.40" y1="417.18" x2="508.00" y2="417.18" stroke="#404040" stroke-width="0.75"/>
<line x1="505.40" y1="422.43" x2="508.00" y2="422.43" stroke="#404040" stroke-width="0.75"/>
<line x1="529.70" y1="419.28" x2="529.70" y2="426.27" stroke="#404040" stroke-width="0.75"/>
<line x1="528.40" y1="419.28" x2="531.00" y2="419.28" stroke="#404040" stroke-width="0.75"/>
<line x1="528.40" y1="426.27" x2="531.00" y2="426.27" stroke="#404040" stroke-width="0.75"/>
<line x1="552.80" y1="420.68" x2="552.80" y2="424.17" stroke="#404040" stroke-width="0.75"/>
<line x1="551.50" y1="420.68" x2="554.10" y2="420.68" stroke="#404040" stroke-width="0.75"/>
<line x1="551.50" y1="424.17" x2="554.10" y2="424.17" stroke="#404040" stroke-width="0.75"/>
<line x1="575.90" y1="417.79" x2="575.90" y2="422.16" stroke="#404040" stroke-width="0.75"/>
<line x1="574.60" y1="417.79" x2="577.20" y2="417.79" stroke="#404040" stroke-width="0.75"/>
<line x1="574.60" y1="422.16" x2="577.20" y2="422.16" stroke="#404040" stroke-width="0.75"/>
<line x1="506.70" y1="419.80" x2="506.70" y2="426.80" stroke="#404040" stroke-width="0.75"/>
<line x1="505.40" y1="419.80" x2="508.00" y2="419.80" stroke="#404040" stroke-width="0.75"/>
<line x1="505.40" y1="426.80" x2="508.00" y2="426.80" stroke="#404040" stroke-width="0.75"/>
<line x1="529.70" y1="424.17" x2="529.70" y2="432.91" stroke="#404040" stroke-width="0.75"/>
<line x1="528.40" y1="424.17" x2="531.00" y2="424.17" stroke="#404040" stroke-width="0.75"/>
<line x1="528.40" y1="432.91" x2="531.00" y2="432.91" stroke="#404040" stroke-width="0.75"/>
<line x1="552.80" y1="432.91" x2="552.80" y2="442.53" stroke="#404040" stroke-width="0.75"/>
<line x1="551.50" y1="432.91" x2="554.10" y2="432.91" stroke="#404040" stroke-width="0.75"/>
<line x1="551.50" y1="442.53" x2="554.10" y2="442.53" stroke="#404040" stroke-width="0.75"/>
<line x1="575.90" y1="429.42" x2="575.90" y2="438.16" stroke="#404040" stroke-width="0.75"/>
<line x1="574.60" y1="429.42" x2="577.20" y2="429.42" stroke="#404040" stroke-width="0.75"/>
<line x1="574.60" y1="438.16" x2="577.20" y2="438.16" stroke="#404040" stroke-width="0.75"/>
<line x1="596.00" y1="433.50" x2="609.60" y2="433.50" stroke="#5b9bd5" stroke-width="1.2"/>
<text x="613.40" y="436.40" font-size="8.2" text-anchor="start" fill="#4a4a4a" stroke="#4a4a4a" stroke-width="0.1">siLuc</text>
<line x1="596.00" y1="444.20" x2="609.60" y2="444.20" stroke="#ed7d31" stroke-width="1.2"/>
<text x="613.40" y="447.10" font-size="8.2" text-anchor="start" fill="#4a4a4a" stroke="#4a4a4a" stroke-width="0.1">siBRCA2</text>
<line x1="596.00" y1="455.00" x2="609.60" y2="455.00" stroke="#70ad47" stroke-width="1.2"/>
<text x="613.40" y="457.90" font-size="8.2" text-anchor="start" fill="#4a4a4a" stroke="#4a4a4a" stroke-width="0.1">siLuc+UNG2 KO</text>
<line x1="596.00" y1="466.00" x2="609.60" y2="466.00" stroke="#9e480e" stroke-width="1.2"/>
<text x="613.40" y="468.90" font-size="8.2" text-anchor="start" fill="#4a4a4a" stroke="#4a4a4a" stroke-width="0.1">siBRCA2+UNG2 KO</text>
<text x="2.50" y="557.70" font-size="16" text-anchor="start" font-weight="bold" fill="#000">i</text>
<text x="89.00" y="570.50" font-size="7" text-anchor="middle" fill="#000" stroke="#000" stroke-width="0.1">U2OS</text>
<line x1="59.90" y1="573.20" x2="119.10" y2="573.20" stroke="#000" stroke-width="0.7"/>
<text x="57.60" y="611.20" font-size="7.8" text-anchor="start" fill="#000" stroke="#000" stroke-width="0.1" transform="rotate(-90 57.60 611.20)">siLuc</text>
<text x="77.20" y="611.20" font-size="7.8" text-anchor="start" fill="#000" stroke="#000" stroke-width="0.1" transform="rotate(-90 77.20 611.20)">siBRCA2</text>
<text x="98.40" y="611.20" font-size="7.8" text-anchor="start" fill="#000" stroke="#000" stroke-width="0.1" transform="rotate(-90 98.40 611.20)">siAPE1#1</text>
<text x="113.90" y="611.20" font-size="7.8" text-anchor="start" fill="#000" stroke="#000" stroke-width="0.1" transform="rotate(-90 113.90 611.20)">siBRCA2+</text>
<text x="121.80" y="611.20" font-size="7.8" text-anchor="start" fill="#000" stroke="#000" stroke-width="0.1" transform="rotate(-90 121.80 611.20)">siAPE1#1</text>
<text x="24.40" y="615.50" font-size="7.5" text-anchor="start" fill="#000" stroke="#000" stroke-width="0.1">kDa</text>
<rect x="48.00" y="613.80" width="78.90" height="24.80" fill="#d2d2d2"/>
<rect x="48.00" y="640.00" width="78.90" height="19.00" fill="#cfcfcf"/>
<rect x="48.00" y="662.00" width="78.90" height="14.80" fill="#c8c8c8"/>
<rect x="51.20" y="624.80" width="12.20" height="2.40" rx="1.20" fill="#111" fill-opacity="0.95" filter="url(#bl)"/>
<rect x="51.20" y="630.00" width="12.20" height="2.00" rx="1.00" fill="#888" fill-opacity="0.4" filter="url(#bl)"/>
<rect x="51.20" y="633.00" width="12.20" height="2.00" rx="1.00" fill="#888" fill-opacity="0.4" filter="url(#bl)"/>
<rect x="70.00" y="623.50" width="12.20" height="1.60" rx="0.80" fill="#888" fill-opacity="0.5" filter="url(#bl)"/>
<rect x="90.00" y="623.10" width="12.00" height="2.40" rx="1.20" fill="#111" fill-opacity="0.95" filter="url(#bl)"/>
<rect x="90.00" y="630.00" width="12.00" height="2.00" rx="1.00" fill="#888" fill-opacity="0.4" filter="url(#bl)"/>
<rect x="106.50" y="622.70" width="12.50" height="1.60" rx="0.80" fill="#888" fill-opacity="0.5" filter="url(#bl)"/>
<rect x="106.50" y="630.10" width="12.50" height="1.80" rx="0.90" fill="#999" fill-opacity="0.35" filter="url(#bl)"/>
<rect x="51.20" y="645.70" width="14.00" height="6.20" rx="3.00" fill="#050505" fill-opacity="1" filter="url(#bl)"/>
<rect x="70.50" y="645.70" width="13.50" height="6.20" rx="3.00" fill="#050505" fill-opacity="1" filter="url(#bl)"/>
<rect x="90.00" y="648.30" width="12.00" height="2.40" rx="1.20" fill="#aaa" fill-opacity="0.5" filter="url(#bl)"/>
<rect x="106.50" y="648.30" width="12.50" height="2.40" rx="1.20" fill="#aaa" fill-opacity="0.5" filter="url(#bl)"/>
<rect x="49.80" y="665.40" width="17.20" height="8.40" rx="3.00" fill="#030303" fill-opacity="1" filter="url(#bl)"/>
<rect x="69.40" y="665.40" width="16.30" height="8.40" rx="3.00" fill="#030303" fill-opacity="1" filter="url(#bl)"/>
<rect x="88.30" y="665.40" width="17.20" height="8.40" rx="3.00" fill="#030303" fill-opacity="1" filter="url(#bl)"/>
<rect x="108.50" y="665.40" width="16.60" height="8.40" rx="3.00" fill="#030303" fill-opacity="1" filter="url(#bl)"/>
<text x="38.00" y="640.00" font-size="7.5" text-anchor="end" fill="#000" stroke="#000" stroke-width="0.1">198</text>
<line x1="39.00" y1="637.40" x2="43.00" y2="637.40" stroke="#444" stroke-width="0.6"/>
<text x="38.00" y="659.30" font-size="7.5" text-anchor="end" fill="#000" stroke="#000" stroke-width="0.1">38</text>
<line x1="39.00" y1="656.70" x2="43.00" y2="656.70" stroke="#444" stroke-width="0.6"/>
<text x="38.00" y="672.80" font-size="7.5" text-anchor="end" fill="#000" stroke="#000" stroke-width="0.1">38</text>
<line x1="39.00" y1="670.20" x2="43.00" y2="670.20" stroke="#444" stroke-width="0.6"/>
<line x1="128.60" y1="623.90" x2="133.20" y2="623.90" stroke="#333" stroke-width="0.6"/>
<text x="135.40" y="626.50" font-size="7.2" text-anchor="start" fill="#000" stroke="#000" stroke-width="0.1">BRCA2</text>
<line x1="128.60" y1="647.90" x2="133.20" y2="647.90" stroke="#333" stroke-width="0.6"/>
<text x="135.40" y="650.50" font-size="7.2" text-anchor="start" fill="#000" stroke="#000" stroke-width="0.1">APE1</text>
<line x1="128.60" y1="670.70" x2="133.20" y2="670.70" stroke="#333" stroke-width="0.6"/>
<text x="135.40" y="673.30" font-size="7.2" text-anchor="start" fill="#000" stroke="#000" stroke-width="0.1">GAPDH</text>
<text x="176.20" y="557.50" font-size="16" text-anchor="start" font-weight="bold" fill="#000">j</text>
<line x1="226.90" y1="679.50" x2="333.70" y2="679.50" stroke="#d9d9d9" stroke-width="0.8"/>
<text x="223.90" y="681.00" font-size="8.0" text-anchor="end" fill="#4a4a4a" stroke="#4a4a4a" stroke-width="0.1">0</text>
<line x1="226.90" y1="661.17" x2="333.70" y2="661.17" stroke="#d9d9d9" stroke-width="0.8"/>
<text x="223.90" y="662.67" font-size="8.0" text-anchor="end" fill="#4a4a4a" stroke="#4a4a4a" stroke-width="0.1">20</text>
<line x1="226.90" y1="642.83" x2="333.70" y2="642.83" stroke="#d9d9d9" stroke-width="0.8"/>
<text x="223.90" y="644.33" font-size="8.0" text-anchor="end" fill="#4a4a4a" stroke="#4a4a4a" stroke-width="0.1">40</text>
<line x1="226.90" y1="624.50" x2="333.70" y2="624.50" stroke="#d9d9d9" stroke-width="0.8"/>
<text x="223.90" y="626.00" font-size="8.0" text-anchor="end" fill="#4a4a4a" stroke="#4a4a4a" stroke-width="0.1">60</text>
<line x1="226.90" y1="606.17" x2="333.70" y2="606.17" stroke="#d9d9d9" stroke-width="0.8"/>
<text x="223.90" y="607.67" font-size="8.0" text-anchor="end" fill="#4a4a4a" stroke="#4a4a4a" stroke-width="0.1">80</text>
<line x1="226.90" y1="587.83" x2="333.70" y2="587.83" stroke="#d9d9d9" stroke-width="0.8"/>
<text x="223.90" y="589.33" font-size="8.0" text-anchor="end" fill="#4a4a4a" stroke="#4a4a4a" stroke-width="0.1">100</text>
<line x1="226.90" y1="569.50" x2="333.70" y2="569.50" stroke="#d9d9d9" stroke-width="0.8"/>
<text x="223.90" y="571.00" font-size="8.0" text-anchor="end" fill="#4a4a4a" stroke="#4a4a4a" stroke-width="0.1">120</text>
<text x="237.20" y="688.10" font-size="8.0" text-anchor="middle" fill="#4a4a4a" stroke="#4a4a4a" stroke-width="0.1">0</text>
<text x="258.70" y="688.10" font-size="8.0" text-anchor="middle" fill="#4a4a4a" stroke="#4a4a4a" stroke-width="0.1">0.1</text>
<text x="280.20" y="688.10" font-size="8.0" text-anchor="middle" fill="#4a4a4a" stroke="#4a4a4a" stroke-width="0.1">0.2</text>
<text x="301.70" y="688.10" font-size="8.0" text-anchor="middle" fill="#4a4a4a" stroke="#4a4a4a" stroke-width="0.1">0.3</text>
<text x="323.10" y="688.10" font-size="8.0" text-anchor="middle" fill="#4a4a4a" stroke="#4a4a4a" stroke-width="0.1">0.4</text>
<text x="282.20" y="699.80" font-size="7.8" text-anchor="middle" font-weight="bold" fill="#262626">HU Dose (mM)</text>
<text x="207.00" y="625.10" font-size="8.5" text-anchor="middle" font-weight="bold" fill="#262626" transform="rotate(-90 207.00 625.10)">Percentage cell survival</text>
<polyline points="237.20,587.83 258.70,589.21 280.20,584.17 301.70,590.49 323.10,604.52" fill="none" stroke="#5b9bd5" stroke-width="1.2" stroke-linejoin="round"/>
<polyline points="237.20,587.83 258.70,605.71 280.20,609.83 301.70,631.38 323.10,643.29" fill="none" stroke="#ed7d31" stroke-width="1.2" stroke-linejoin="round"/>
<polyline points="237.20,587.83 258.70,589.21 280.20,589.48 301.70,595.81 323.10,604.52" fill="none" stroke="#f2709f" stroke-width="1.2" stroke-linejoin="round"/>
<polyline points="237.20,587.83 258.70,582.98 280.20,591.13 301.70,616.25 323.10,631.56" fill="none" stroke="#3e9ca5" stroke-width="1.2" stroke-linejoin="round"/>
<line x1="280.20" y1="580.50" x2="280.20" y2="587.83" stroke="#404040" stroke-width="0.75"/>
<line x1="278.90" y1="580.50" x2="281.50" y2="580.50" stroke="#404040" stroke-width="0.75"/>
<line x1="278.90" y1="587.83" x2="281.50" y2="587.83" stroke="#404040" stroke-width="0.75"/>
<line x1="301.70" y1="585.91" x2="301.70" y2="595.08" stroke="#404040" stroke-width="0.75"/>
<line x1="300.40" y1="585.91" x2="303.00" y2="585.91" stroke="#404040" stroke-width="0.75"/>
<line x1="300.40" y1="595.08" x2="303.00" y2="595.08" stroke="#404040" stroke-width="0.75"/>
<line x1="258.70" y1="602.50" x2="258.70" y2="608.92" stroke="#404040" stroke-width="0.75"/>
<line x1="257.40" y1="602.50" x2="260.00" y2="602.50" stroke="#404040" stroke-width="0.75"/>
<line x1="257.40" y1="608.92" x2="260.00" y2="608.92" stroke="#404040" stroke-width="0.75"/>
<line x1="280.20" y1="606.17" x2="280.20" y2="613.50" stroke="#404040" stroke-width="0.75"/>
<line x1="278.90" y1="606.17" x2="281.50" y2="606.17" stroke="#404040" stroke-width="0.75"/>
<line x1="278.90" y1="613.50" x2="281.50" y2="613.50" stroke="#404040" stroke-width="0.75"/>
<line x1="301.70" y1="627.71" x2="301.70" y2="635.04" stroke="#404040" stroke-width="0.75"/>
<line x1="300.40" y1="627.71" x2="303.00" y2="627.71" stroke="#404040" stroke-width="0.75"/>
<line x1="300.40" y1="635.04" x2="303.00" y2="635.04" stroke="#404040" stroke-width="0.75"/>
<line x1="323.10" y1="639.62" x2="323.10" y2="646.96" stroke="#404040" stroke-width="0.75"/>
<line x1="321.80" y1="639.62" x2="324.40" y2="639.62" stroke="#404040" stroke-width="0.75"/>
<line x1="321.80" y1="646.96" x2="324.40" y2="646.96" stroke="#404040" stroke-width="0.75"/>
<line x1="323.10" y1="597.64" x2="323.10" y2="611.39" stroke="#404040" stroke-width="0.75"/>
<line x1="321.80" y1="597.64" x2="324.40" y2="597.64" stroke="#404040" stroke-width="0.75"/>
<line x1="321.80" y1="611.39" x2="324.40" y2="611.39" stroke="#404040" stroke-width="0.75"/>
<line x1="258.70" y1="577.93" x2="258.70" y2="588.02" stroke="#404040" stroke-width="0.75"/>
<line x1="257.40" y1="577.93" x2="260.00" y2="577.93" stroke="#404040" stroke-width="0.75"/>
<line x1="257.40" y1="588.02" x2="260.00" y2="588.02" stroke="#404040" stroke-width="0.75"/>
<line x1="280.20" y1="584.72" x2="280.20" y2="597.55" stroke="#404040" stroke-width="0.75"/>
<line x1="278.90" y1="584.72" x2="281.50" y2="584.72" stroke="#404040" stroke-width="0.75"/>
<line x1="278.90" y1="597.55" x2="281.50" y2="597.55" stroke="#404040" stroke-width="0.75"/>
<line x1="301.70" y1="610.29" x2="301.70" y2="622.21" stroke="#404040" stroke-width="0.75"/>
<line x1="300.40" y1="610.29" x2="303.00" y2="610.29" stroke="#404040" stroke-width="0.75"/>
<line x1="300.40" y1="622.21" x2="303.00" y2="622.21" stroke="#404040" stroke-width="0.75"/>
<line x1="323.10" y1="623.77" x2="323.10" y2="639.35" stroke="#404040" stroke-width="0.75"/>
<line x1="321.80" y1="623.77" x2="324.40" y2="623.77" stroke="#404040" stroke-width="0.75"/>
<line x1="321.80" y1="639.35" x2="324.40" y2="639.35" stroke="#404040" stroke-width="0.75"/>
<line x1="340.70" y1="620.50" x2="352.30" y2="620.50" stroke="#5b9bd5" stroke-width="1.2"/>
<text x="355.90" y="623.40" font-size="8.2" text-anchor="start" fill="#4a4a4a" stroke="#4a4a4a" stroke-width="0.1">siLuc</text>
<line x1="340.70" y1="630.10" x2="352.30" y2="630.10" stroke="#ed7d31" stroke-width="1.2"/>
<text x="355.90" y="633.00" font-size="8.2" text-anchor="start" fill="#4a4a4a" stroke="#4a4a4a" stroke-width="0.1">siBRCA2</text>
<line x1="340.70" y1="639.60" x2="352.30" y2="639.60" stroke="#f2709f" stroke-width="1.2"/>
<text x="355.90" y="642.50" font-size="8.2" text-anchor="start" fill="#4a4a4a" stroke="#4a4a4a" stroke-width="0.1">siAPE1#1</text>
<line x1="340.70" y1="649.30" x2="352.30" y2="649.30" stroke="#3e9ca5" stroke-width="1.2"/>
<text x="355.90" y="652.20" font-size="8.2" text-anchor="start" fill="#4a4a4a" stroke="#4a4a4a" stroke-width="0.1">siBRCA2+siAPE1#1</text>
<text x="430.60" y="558.00" font-size="16" text-anchor="start" font-weight="bold" fill="#000">k</text>
<line x1="480.00" y1="680.40" x2="588.00" y2="680.40" stroke="#d9d9d9" stroke-width="0.8"/>
<text x="476.10" y="682.40" font-size="8.0" text-anchor="end" fill="#4a4a4a" stroke="#4a4a4a" stroke-width="0.1">0</text>
<line x1="480.00" y1="661.63" x2="588.00" y2="661.63" stroke="#d9d9d9" stroke-width="0.8"/>
<text x="476.10" y="663.63" font-size="8.0" text-anchor="end" fill="#4a4a4a" stroke="#4a4a4a" stroke-width="0.1">20</text>
<line x1="480.00" y1="642.87" x2="588.00" y2="642.87" stroke="#d9d9d9" stroke-width="0.8"/>
<text x="476.10" y="644.87" font-size="8.0" text-anchor="end" fill="#4a4a4a" stroke="#4a4a4a" stroke-width="0.1">40</text>
<line x1="480.00" y1="624.10" x2="588.00" y2="624.10" stroke="#d9d9d9" stroke-width="0.8"/>
<text x="476.10" y="626.10" font-size="8.0" text-anchor="end" fill="#4a4a4a" stroke="#4a4a4a" stroke-width="0.1">60</text>
<line x1="480.00" y1="605.33" x2="588.00" y2="605.33" stroke="#d9d9d9" stroke-width="0.8"/>
<text x="476.10" y="607.33" font-size="8.0" text-anchor="end" fill="#4a4a4a" stroke="#4a4a4a" stroke-width="0.1">80</text>
<line x1="480.00" y1="586.57" x2="588.00" y2="586.57" stroke="#d9d9d9" stroke-width="0.8"/>
<text x="476.10" y="588.57" font-size="8.0" text-anchor="end" fill="#4a4a4a" stroke="#4a4a4a" stroke-width="0.1">100</text>
<line x1="480.00" y1="567.80" x2="588.00" y2="567.80" stroke="#d9d9d9" stroke-width="0.8"/>
<text x="476.10" y="569.80" font-size="8.0" text-anchor="end" fill="#4a4a4a" stroke="#4a4a4a" stroke-width="0.1">120</text>
<text x="490.50" y="688.10" font-size="8.0" text-anchor="middle" fill="#4a4a4a" stroke="#4a4a4a" stroke-width="0.1">0</text>
<text x="512.20" y="688.10" font-size="8.0" text-anchor="middle" fill="#4a4a4a" stroke="#4a4a4a" stroke-width="0.1">0.15</text>
<text x="533.80" y="688.10" font-size="8.0" text-anchor="middle" fill="#4a4a4a" stroke="#4a4a4a" stroke-width="0.1">0.3</text>
<text x="555.50" y="688.10" font-size="8.0" text-anchor="middle" fill="#4a4a4a" stroke="#4a4a4a" stroke-width="0.1">0.45</text>
<text x="577.10" y="688.10" font-size="8.0" text-anchor="middle" fill="#4a4a4a" stroke="#4a4a4a" stroke-width="0.1">0.6</text>
<text x="535.00" y="699.40" font-size="7.8" text-anchor="middle" font-weight="bold" fill="#262626">Cisplatin Dose (μM)</text>
<text x="458.00" y="624.50" font-size="8.5" text-anchor="middle" font-weight="bold" fill="#262626" transform="rotate(-90 458.00 624.50)">Percentage cell survival</text>
<polyline points="490.50,586.57 512.20,588.54 533.80,584.50 555.50,592.67 577.10,594.45" fill="none" stroke="#5b9bd5" stroke-width="1.2" stroke-linejoin="round"/>
<polyline points="490.50,586.57 512.20,620.91 533.80,637.89 555.50,640.99 577.10,644.84" fill="none" stroke="#ed7d31" stroke-width="1.2" stroke-linejoin="round"/>
<polyline points="490.50,586.57 512.20,586.57 533.80,591.92 555.50,594.73 577.10,602.24" fill="none" stroke="#f2709f" stroke-width="1.2" stroke-linejoin="round"/>
<polyline points="490.50,586.57 512.20,602.24 533.80,615.28 555.50,623.16 577.10,625.79" fill="none" stroke="#3e9ca5" stroke-width="1.2" stroke-linejoin="round"/>
<line x1="512.20" y1="585.72" x2="512.20" y2="591.35" stroke="#404040" stroke-width="0.75"/>
<line x1="510.90" y1="585.72" x2="513.50" y2="585.72" stroke="#404040" stroke-width="0.75"/>
<line x1="510.90" y1="591.35" x2="513.50" y2="591.35" stroke="#404040" stroke-width="0.75"/>
<line x1="533.80" y1="580.75" x2="533.80" y2="588.26" stroke="#404040" stroke-width="0.75"/>
<line x1="532.50" y1="580.75" x2="535.10" y2="580.75" stroke="#404040" stroke-width="0.75"/>
<line x1="532.50" y1="588.26" x2="535.10" y2="588.26" stroke="#404040" stroke-width="0.75"/>
<line x1="555.50" y1="589.38" x2="555.50" y2="595.95" stroke="#404040" stroke-width="0.75"/>
<line x1="554.20" y1="589.38" x2="556.80" y2="589.38" stroke="#404040" stroke-width="0.75"/>
<line x1="554.20" y1="595.95" x2="556.80" y2="595.95" stroke="#404040" stroke-width="0.75"/>
<line x1="577.10" y1="591.16" x2="577.10" y2="597.73" stroke="#404040" stroke-width="0.75"/>
<line x1="575.80" y1="591.16" x2="578.40" y2="591.16" stroke="#404040" stroke-width="0.75"/>
<line x1="575.80" y1="597.73" x2="578.40" y2="597.73" stroke="#404040" stroke-width="0.75"/>
<line x1="512.20" y1="618.56" x2="512.20" y2="623.26" stroke="#404040" stroke-width="0.75"/>
<line x1="510.90" y1="618.56" x2="513.50" y2="618.56" stroke="#404040" stroke-width="0.75"/>
<line x1="510.90" y1="623.26" x2="513.50" y2="623.26" stroke="#404040" stroke-width="0.75"/>
<line x1="533.80" y1="636.02" x2="533.80" y2="639.77" stroke="#404040" stroke-width="0.75"/>
<line x1="532.50" y1="636.02" x2="535.10" y2="636.02" stroke="#404040" stroke-width="0.75"/>
<line x1="532.50" y1="639.77" x2="535.10" y2="639.77" stroke="#404040" stroke-width="0.75"/>
<line x1="555.50" y1="635.83" x2="555.50" y2="646.15" stroke="#404040" stroke-width="0.75"/>
<line x1="554.20" y1="635.83" x2="556.80" y2="635.83" stroke="#404040" stroke-width="0.75"/>
<line x1="554.20" y1="646.15" x2="556.80" y2="646.15" stroke="#404040" stroke-width="0.75"/>
<line x1="577.10" y1="641.08" x2="577.10" y2="648.59" stroke="#404040" stroke-width="0.75"/>
<line x1="575.80" y1="641.08" x2="578.40" y2="641.08" stroke="#404040" stroke-width="0.75"/>
<line x1="575.80" y1="648.59" x2="578.40" y2="648.59" stroke="#404040" stroke-width="0.75"/>
<line x1="533.80" y1="588.16" x2="533.80" y2="595.67" stroke="#404040" stroke-width="0.75"/>
<line x1="532.50" y1="588.16" x2="535.10" y2="588.16" stroke="#404040" stroke-width="0.75"/>
<line x1="532.50" y1="595.67" x2="535.10" y2="595.67" stroke="#404040" stroke-width="0.75"/>
<line x1="577.10" y1="600.83" x2="577.10" y2="603.64" stroke="#404040" stroke-width="0.75"/>
<line x1="575.80" y1="600.83" x2="578.40" y2="600.83" stroke="#404040" stroke-width="0.75"/>
<line x1="575.80" y1="603.64" x2="578.40" y2="603.64" stroke="#404040" stroke-width="0.75"/>
<line x1="512.20" y1="597.08" x2="512.20" y2="607.40" stroke="#404040" stroke-width="0.75"/>
<line x1="510.90" y1="597.08" x2="513.50" y2="597.08" stroke="#404040" stroke-width="0.75"/>
<line x1="510.90" y1="607.40" x2="513.50" y2="607.40" stroke="#404040" stroke-width="0.75"/>
<line x1="533.80" y1="610.12" x2="533.80" y2="620.44" stroke="#404040" stroke-width="0.75"/>
<line x1="532.50" y1="610.12" x2="535.10" y2="610.12" stroke="#404040" stroke-width="0.75"/>
<line x1="532.50" y1="620.44" x2="535.10" y2="620.44" stroke="#404040" stroke-width="0.75"/>
<line x1="555.50" y1="617.53" x2="555.50" y2="628.79" stroke="#404040" stroke-width="0.75"/>
<line x1="554.20" y1="617.53" x2="556.80" y2="617.53" stroke="#404040" stroke-width="0.75"/>
<line x1="554.20" y1="628.79" x2="556.80" y2="628.79" stroke="#404040" stroke-width="0.75"/>
<line x1="577.10" y1="620.63" x2="577.10" y2="630.95" stroke="#404040" stroke-width="0.75"/>
<line x1="575.80" y1="620.63" x2="578.40" y2="620.63" stroke="#404040" stroke-width="0.75"/>
<line x1="575.80" y1="630.95" x2="578.40" y2="630.95" stroke="#404040" stroke-width="0.75"/>
<line x1="592.20" y1="619.30" x2="604.50" y2="619.30" stroke="#5b9bd5" stroke-width="1.2"/>
<text x="607.60" y="622.20" font-size="8.2" text-anchor="start" fill="#4a4a4a" stroke="#4a4a4a" stroke-width="0.1">siLuc</text>
<line x1="592.20" y1="628.60" x2="604.50" y2="628.60" stroke="#ed7d31" stroke-width="1.2"/>
<text x="607.60" y="631.50" font-size="8.2" text-anchor="start" fill="#4a4a4a" stroke="#4a4a4a" stroke-width="0.1">siBRCA2</text>
<line x1="592.20" y1="638.20" x2="604.50" y2="638.20" stroke="#f2709f" stroke-width="1.2"/>
<text x="607.60" y="641.10" font-size="8.2" text-anchor="start" fill="#4a4a4a" stroke="#4a4a4a" stroke-width="0.1">siAPE1#1</text>
<line x1="592.20" y1="647.60" x2="604.50" y2="647.60" stroke="#3e9ca5" stroke-width="1.2"/>
<text x="607.60" y="650.50" font-size="8.2" text-anchor="start" fill="#4a4a4a" stroke="#4a4a4a" stroke-width="0.1">siBRCA2+siAPE1#1</text>
<text x="2.20" y="723.00" font-size="14.5" text-anchor="start" font-weight="bold" fill="#000">l</text>
<text x="142.30" y="729.30" font-size="9.3" text-anchor="middle" font-weight="bold" fill="#000">TCGA Ovarian</text>
<text x="142.30" y="736.10" font-size="9.3" text-anchor="middle" font-weight="bold" fill="#000">BRCA2 mutated</text>
<path d="M57.03,747.50 L57.89,747.50 L57.89,755.62 L64.94,755.62 L64.94,763.73 L103.13,763.73 L103.13,771.85 L118.61,771.85 L118.61,779.96 L139.25,779.96 L139.25,788.08 L145.10,788.08 L145.10,796.19 L158.86,796.19 L158.86,804.31 L181.56,804.31 L181.56,812.32 L228.00,812.32" fill="none" stroke="#3d94cf" stroke-width="1.1"/>
<path d="M57.03,747.50 L156.10,747.50 L156.10,758.04 L222.50,758.04 L222.50,768.58 L228.00,768.58" fill="none" stroke="#ee6a2c" stroke-width="1.1"/>
<line x1="68.73" y1="745.30" x2="68.73" y2="749.70" stroke="#ee6a2c" stroke-width="0.9"/>
<line x1="78.36" y1="745.30" x2="78.36" y2="749.70" stroke="#ee6a2c" stroke-width="0.9"/>
<line x1="116.20" y1="745.30" x2="116.20" y2="749.70" stroke="#ee6a2c" stroke-width="0.9"/>
<line x1="228.00" y1="766.38" x2="228.00" y2="770.78" stroke="#ee6a2c" stroke-width="0.9"/>
<line x1="228.00" y1="810.12" x2="228.00" y2="814.52" stroke="#3d94cf" stroke-width="0.9"/>
<line x1="226.50" y1="768.58" x2="229.80" y2="768.58" stroke="#ee6a2c" stroke-width="1.1"/>
<line x1="226.50" y1="812.32" x2="229.80" y2="812.32" stroke="#3d94cf" stroke-width="1.1"/>
<rect x="49.70" y="743.30" width="185.30" height="113.60" fill="none" stroke="#111" stroke-width="1.1"/>
<line x1="46.50" y1="852.90" x2="49.70" y2="852.90" stroke="#111" stroke-width="0.9"/>
<text x="45.50" y="855.50" font-size="7.4" text-anchor="end" fill="#222" stroke="#222" stroke-width="0.1">0.0</text>
<line x1="46.50" y1="831.82" x2="49.70" y2="831.82" stroke="#111" stroke-width="0.9"/>
<text x="45.50" y="834.42" font-size="7.4" text-anchor="end" fill="#222" stroke="#222" stroke-width="0.1">0.2</text>
<line x1="46.50" y1="810.74" x2="49.70" y2="810.74" stroke="#111" stroke-width="0.9"/>
<text x="45.50" y="813.34" font-size="7.4" text-anchor="end" fill="#222" stroke="#222" stroke-width="0.1">0.4</text>
<line x1="46.50" y1="789.66" x2="49.70" y2="789.66" stroke="#111" stroke-width="0.9"/>
<text x="45.50" y="792.26" font-size="7.4" text-anchor="end" fill="#222" stroke="#222" stroke-width="0.1">0.6</text>
<line x1="46.50" y1="768.58" x2="49.70" y2="768.58" stroke="#111" stroke-width="0.9"/>
<text x="45.50" y="771.18" font-size="7.4" text-anchor="end" fill="#222" stroke="#222" stroke-width="0.1">0.8</text>
<line x1="46.50" y1="747.50" x2="49.70" y2="747.50" stroke="#111" stroke-width="0.9"/>
<text x="45.50" y="750.10" font-size="7.4" text-anchor="end" fill="#222" stroke="#222" stroke-width="0.1">1.0</text>
<line x1="56.00" y1="856.90" x2="56.00" y2="860.40" stroke="#111" stroke-width="0.9"/>
<text x="56.00" y="868.50" font-size="7.4" text-anchor="middle" fill="#222" stroke="#222" stroke-width="0.1">0</text>
<line x1="90.40" y1="856.90" x2="90.40" y2="860.40" stroke="#111" stroke-width="0.9"/>
<text x="90.40" y="868.50" font-size="7.4" text-anchor="middle" fill="#222" stroke="#222" stroke-width="0.1">1</text>
<line x1="124.80" y1="856.90" x2="124.80" y2="860.40" stroke="#111" stroke-width="0.9"/>
<text x="124.80" y="868.50" font-size="7.4" text-anchor="middle" fill="#222" stroke="#222" stroke-width="0.1">2</text>
<line x1="159.20" y1="856.90" x2="159.20" y2="860.40" stroke="#111" stroke-width="0.9"/>
<text x="159.20" y="868.50" font-size="7.4" text-anchor="middle" fill="#222" stroke="#222" stroke-width="0.1">3</text>
<line x1="193.60" y1="856.90" x2="193.60" y2="860.40" stroke="#111" stroke-width="0.9"/>
<text x="193.60" y="868.50" font-size="7.4" text-anchor="middle" fill="#222" stroke="#222" stroke-width="0.1">4</text>
<line x1="228.00" y1="856.90" x2="228.00" y2="860.40" stroke="#111" stroke-width="0.9"/>
<text x="228.00" y="868.50" font-size="7.4" text-anchor="middle" fill="#222" stroke="#222" stroke-width="0.1">5</text>
<text x="141.90" y="880.30" font-size="8" text-anchor="middle" font-weight="bold" fill="#000">Time (years)</text>
<text x="30.00" y="796.00" font-size="8.3" text-anchor="middle" font-weight="bold" fill="#000" transform="rotate(-90 30.00 796.00)">Fraction alive</text>
<text x="61.10" y="837.40" font-size="7" text-anchor="start" fill="#222" stroke="#222" stroke-width="0.1">APE1</text>
<line x1="53.70" y1="844.00" x2="62.60" y2="844.00" stroke="#ee6a2c" stroke-width="1.1"/>
<text x="66.80" y="846.10" font-size="7" text-anchor="start" fill="#222" stroke="#222" stroke-width="0.1">APE1 High</text>
<line x1="53.70" y1="850.90" x2="62.60" y2="850.90" stroke="#3d94cf" stroke-width="1.1"/>
<text x="66.80" y="853.10" font-size="7" text-anchor="start" fill="#222" stroke="#222" stroke-width="0.1">APE1 Low</text>
<text x="162.70" y="846.60" font-size="7" text-anchor="start" fill="#222" stroke="#222" stroke-width="0.1">HR =&#160; 4.9 ( 1.0 − 23.4)</text>
<text x="162.70" y="852.70" font-size="7" text-anchor="start" fill="#222" stroke="#222" stroke-width="0.1">logrank P = 0.026</text>
<text x="49.70" y="885.80" font-size="6.4" text-anchor="start" fill="#222" stroke="#222" stroke-width="0.1">Number at risk</text>
<text x="8.50" y="893.40" font-size="7.1" text-anchor="start" fill="#ee6a2c" stroke="#ee6a2c" stroke-width="0.1">APE1 High</text>
<text x="8.50" y="899.60" font-size="7.1" text-anchor="start" fill="#3d94cf" stroke="#3d94cf" stroke-width="0.1">APE1 Low</text>
<text x="56.00" y="893.20" font-size="7.1" text-anchor="middle" fill="#ee6a2c" stroke="#ee6a2c" stroke-width="0.1">13</text>
<text x="90.40" y="893.20" font-size="7.1" text-anchor="middle" fill="#ee6a2c" stroke="#ee6a2c" stroke-width="0.1">11</text>
<text x="124.80" y="893.20" font-size="7.1" text-anchor="middle" fill="#ee6a2c" stroke="#ee6a2c" stroke-width="0.1">10</text>
<text x="159.20" y="893.20" font-size="7.1" text-anchor="middle" fill="#ee6a2c" stroke="#ee6a2c" stroke-width="0.1">9</text>
<text x="193.60" y="893.20" font-size="7.1" text-anchor="middle" fill="#ee6a2c" stroke="#ee6a2c" stroke-width="0.1">9</text>
<text x="228.00" y="893.20" font-size="7.1" text-anchor="middle" fill="#ee6a2c" stroke="#ee6a2c" stroke-width="0.1">8</text>
<text x="56.00" y="899.60" font-size="7.1" text-anchor="middle" fill="#3d94cf" stroke="#3d94cf" stroke-width="0.1">13</text>
<text x="90.40" y="899.60" font-size="7.1" text-anchor="middle" fill="#3d94cf" stroke="#3d94cf" stroke-width="0.1">11</text>
<text x="124.80" y="899.60" font-size="7.1" text-anchor="middle" fill="#3d94cf" stroke="#3d94cf" stroke-width="0.1">9</text>
<text x="159.20" y="899.60" font-size="7.1" text-anchor="middle" fill="#3d94cf" stroke="#3d94cf" stroke-width="0.1">6</text>
<text x="193.60" y="899.60" font-size="7.1" text-anchor="middle" fill="#3d94cf" stroke="#3d94cf" stroke-width="0.1">5</text>
<text x="228.00" y="899.60" font-size="7.1" text-anchor="middle" fill="#3d94cf" stroke="#3d94cf" stroke-width="0.1">5</text>
</svg>
</body></html>
